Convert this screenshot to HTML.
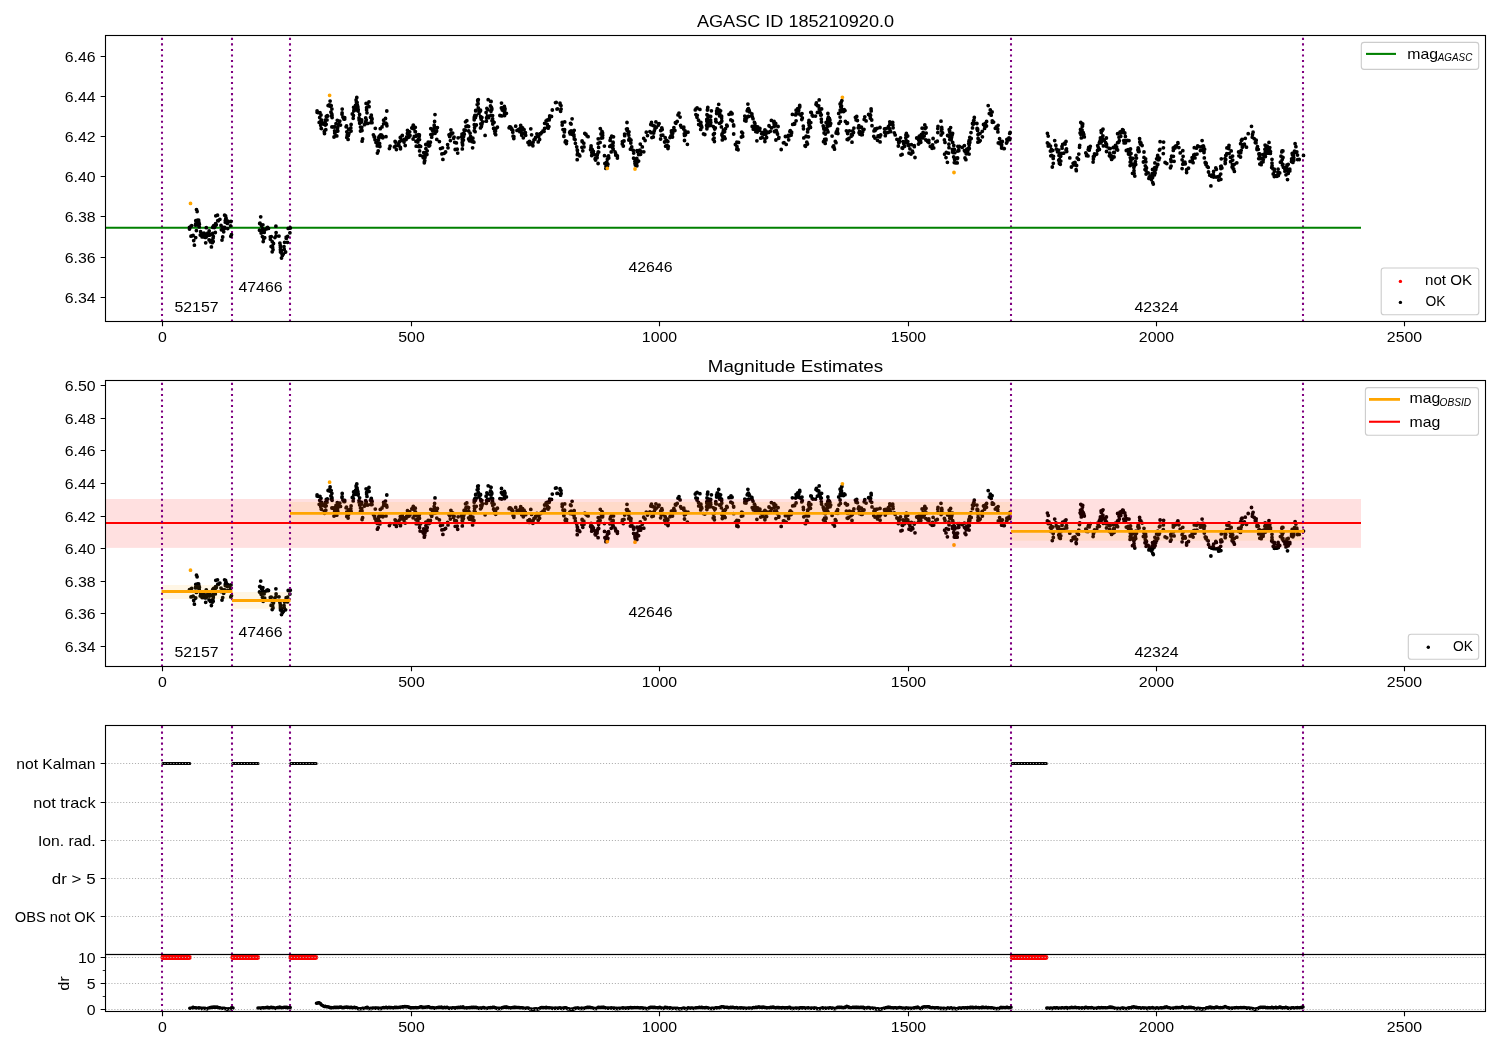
<!DOCTYPE html><html><head><meta charset="utf-8"><style>html,body{margin:0;padding:0;background:#fff;overflow:hidden;width:1500px;height:1050px;}svg{display:block;will-change:transform;}text{font-family:"Liberation Sans",sans-serif;fill:#000;}</style></head><body>
<svg width="1500" height="1050" viewBox="0 0 1500 1050">
<rect width="1500" height="1050" fill="#fff"/>
<defs><clipPath id="c1"><rect x="105.5" y="35.5" width="1380.0" height="286.0"/></clipPath><clipPath id="c2"><rect x="105.5" y="380.5" width="1380.0" height="286.0"/></clipPath><clipPath id="c4"><rect x="105.5" y="954.5" width="1380.0" height="57.0"/></clipPath></defs>
<g clip-path="url(#c1)">
<path d="M162.0 321.5V35.5M232.0 321.5V35.5M290.0 321.5V35.5M1011.0 321.5V35.5M1303.0 321.5V35.5" stroke="#800080" stroke-width="2.083" stroke-dasharray="2.083 3.438" fill="none"/>
<path d="M105.5 227.7H1361" stroke="#008000" stroke-width="2.083" fill="none"/>
<path d="M190.6 226.8h0M189.5 227.3h0M189.5 229.0h0M191.0 226.2h0M191.0 236.2h0M191.7 225.6h0M193.1 235.3h0M192.0 235.9h0M193.7 240.6h0M194.4 245.2h0M195.7 237.6h0M195.7 224.0h0M195.8 220.7h0M196.4 230.6h0M196.4 222.5h0M195.6 225.2h0M196.7 224.0h0M197.1 211.5h0M196.5 209.6h0M197.6 220.1h0M197.5 221.9h0M198.6 220.8h0M198.5 223.7h0M199.0 222.7h0M198.6 220.1h0M199.2 226.9h0M198.3 225.0h0M199.4 224.3h0M200.8 234.3h0M200.3 235.0h0M202.1 236.9h0M200.6 231.7h0M203.0 235.6h0M202.1 234.3h0M204.9 233.8h0M204.9 237.3h0M204.0 233.1h0M205.9 237.3h0M206.2 236.9h0M205.7 242.8h0M206.3 227.7h0M206.8 236.0h0M207.7 233.2h0M209.2 234.1h0M209.2 231.0h0M209.5 235.2h0M209.1 240.0h0M210.5 240.3h0M210.5 241.9h0M212.2 240.8h0M211.4 246.9h0M212.3 242.7h0M211.8 234.1h0M212.4 240.2h0M212.7 233.5h0M212.7 227.3h0M213.1 237.9h0M213.2 241.5h0M213.3 236.4h0M213.1 226.7h0M213.7 225.7h0M215.3 232.5h0M214.3 227.5h0M214.5 225.7h0M215.4 224.9h0M216.3 224.7h0M214.9 226.6h0M215.8 225.3h0M215.6 223.7h0M215.8 215.8h0M217.8 220.7h0M217.5 215.2h0M218.3 220.8h0M219.9 219.3h0M221.0 225.4h0M221.4 229.8h0M222.4 227.2h0M222.0 240.1h0M222.7 237.0h0M224.4 228.5h0M223.7 231.8h0M224.7 227.5h0M224.6 215.2h0M225.3 222.2h0M225.3 220.6h0M226.0 221.1h0M225.6 216.0h0M225.8 218.5h0M226.1 218.2h0M227.3 223.4h0M227.3 220.8h0M227.8 221.1h0M227.7 228.6h0M228.0 222.3h0M230.5 225.8h0M231.0 221.5h0M230.8 236.3h0M231.5 234.6h0M259.5 230.2h0M260.0 223.2h0M259.7 223.5h0M260.7 216.8h0M261.1 233.0h0M261.5 225.8h0M262.4 236.6h0M262.7 228.6h0M262.5 231.9h0M262.9 224.8h0M264.1 231.8h0M263.7 238.8h0M264.2 232.4h0M263.2 241.6h0M264.7 237.7h0M263.5 231.3h0M264.7 230.0h0M266.4 228.9h0M267.0 227.9h0M268.5 228.4h0M267.6 227.4h0M270.4 239.2h0M270.3 236.8h0M271.3 236.6h0M272.2 241.6h0M271.2 246.3h0M270.6 236.8h0M271.1 246.6h0M272.6 247.4h0M272.5 245.9h0M272.2 251.8h0M273.5 243.4h0M273.0 249.7h0M274.9 237.6h0M276.0 236.0h0M276.1 232.6h0M275.9 226.2h0M279.0 236.1h0M280.3 245.4h0M280.4 249.7h0M280.4 247.3h0M279.9 243.2h0M280.5 252.1h0M282.0 254.0h0M281.5 258.0h0M281.7 250.6h0M282.4 255.6h0M281.0 250.1h0M283.3 254.1h0M284.0 246.6h0M284.6 242.3h0M284.2 249.2h0M285.6 252.0h0M286.2 238.3h0M286.2 237.1h0M286.5 238.3h0M287.6 236.4h0M287.5 242.3h0M288.2 228.4h0M290.3 228.0h0M289.9 232.8h0M317.1 110.9h0M317.1 112.3h0M318.2 112.7h0M319.2 122.4h0M320.0 112.7h0M319.7 117.5h0M321.0 115.0h0M321.2 120.5h0M321.6 122.6h0M321.2 128.4h0M321.7 120.1h0M320.7 125.3h0M321.1 124.2h0M323.6 124.0h0M321.4 128.6h0M324.3 131.7h0M324.7 122.9h0M324.5 133.5h0M324.6 130.8h0M325.4 125.0h0M325.6 119.8h0M325.8 129.7h0M325.1 122.3h0M326.2 124.3h0M326.0 124.4h0M326.3 116.4h0M327.0 119.9h0M327.3 115.6h0M327.4 116.2h0M328.1 105.6h0M329.1 104.9h0M329.8 106.1h0M330.1 101.1h0M331.2 105.7h0M330.3 105.2h0M331.1 112.4h0M331.9 108.9h0M330.9 112.1h0M331.9 114.2h0M332.0 115.7h0M332.1 117.5h0M331.3 115.9h0M331.9 126.9h0M332.9 127.0h0M334.0 126.8h0M334.4 127.0h0M334.0 137.0h0M334.7 133.1h0M334.6 130.8h0M335.5 132.1h0M335.2 131.9h0M335.9 135.9h0M337.5 128.2h0M336.8 135.9h0M336.0 123.7h0M337.7 127.2h0M337.3 120.3h0M337.8 131.0h0M339.8 121.1h0M339.5 121.4h0M339.0 124.2h0M340.5 125.1h0M342.1 113.0h0M342.0 114.2h0M342.2 109.1h0M342.9 117.1h0M343.9 119.1h0M344.2 118.4h0M344.7 117.7h0M344.7 119.1h0M346.5 125.9h0M346.8 131.8h0M346.8 137.4h0M346.1 126.8h0M347.2 135.2h0M347.6 134.5h0M348.1 139.4h0M348.9 133.5h0M348.4 135.5h0M348.6 129.2h0M351.1 131.1h0M350.8 127.9h0M351.1 124.4h0M353.2 118.3h0M353.4 115.5h0M353.6 107.3h0M352.3 114.0h0M353.8 110.9h0M354.0 108.9h0M355.5 105.5h0M356.2 106.5h0M356.8 97.4h0M356.1 100.0h0M355.8 109.8h0M358.1 111.1h0M356.7 103.2h0M356.4 102.0h0M357.4 105.2h0M357.6 106.1h0M357.1 102.4h0M358.2 109.7h0M357.9 107.0h0M357.8 108.0h0M359.1 119.9h0M359.6 114.5h0M359.0 117.9h0M359.9 122.5h0M359.7 123.3h0M361.7 120.0h0M359.7 122.0h0M361.2 120.1h0M360.5 131.0h0M360.5 127.1h0M361.5 122.1h0M361.7 127.4h0M362.0 130.5h0M361.6 130.5h0M362.1 141.2h0M362.6 139.0h0M364.5 124.7h0M365.0 123.9h0M365.7 117.9h0M365.6 121.6h0M366.3 119.8h0M367.8 123.4h0M367.0 112.8h0M366.1 103.4h0M366.6 107.7h0M366.6 109.9h0M369.0 101.8h0M367.7 103.9h0M369.1 106.7h0M370.5 117.3h0M371.7 117.8h0M371.3 115.1h0M370.9 122.7h0M370.8 117.4h0M371.6 120.5h0M372.1 119.0h0M372.0 122.7h0M374.2 136.9h0M375.3 128.3h0M373.4 134.8h0M375.0 139.7h0M374.6 137.0h0M376.0 142.5h0M377.6 142.8h0M377.4 153.1h0M378.2 151.0h0M377.3 145.9h0M379.4 136.1h0M378.8 137.5h0M379.6 145.4h0M379.9 146.5h0M378.5 139.8h0M379.6 143.5h0M380.6 134.8h0M381.7 135.1h0M381.0 135.7h0M381.1 137.1h0M380.3 128.7h0M382.6 136.5h0M382.8 137.8h0M382.0 126.9h0M383.6 120.2h0M383.6 123.8h0M385.5 118.5h0M386.8 111.0h0M385.8 123.1h0M386.6 124.0h0M386.9 125.8h0M386.0 136.7h0M390.1 146.1h0M389.4 148.6h0M394.4 146.9h0M395.1 141.5h0M395.7 142.1h0M395.7 146.0h0M395.8 142.1h0M395.3 142.0h0M396.4 149.6h0M399.0 145.7h0M398.7 145.4h0M398.6 144.2h0M398.7 144.0h0M400.4 147.4h0M399.8 141.4h0M400.5 148.8h0M400.3 137.5h0M402.0 140.1h0M402.3 135.5h0M404.3 139.3h0M404.0 142.1h0M405.2 145.5h0M406.7 136.9h0M406.1 139.5h0M406.5 137.8h0M408.1 135.9h0M407.4 133.4h0M407.4 137.7h0M407.5 130.3h0M409.1 137.0h0M410.0 135.4h0M409.7 131.8h0M411.8 128.0h0M413.0 126.2h0M413.1 139.0h0M413.3 125.1h0M414.3 136.3h0M415.1 131.7h0M414.0 128.9h0M415.3 127.3h0M415.8 136.3h0M416.0 141.4h0M415.4 131.7h0M416.7 135.1h0M417.8 142.0h0M418.4 139.3h0M416.2 146.2h0M419.2 136.4h0M417.0 140.8h0M418.5 134.6h0M419.6 150.9h0M419.5 139.6h0M419.4 134.9h0M419.3 145.7h0M420.6 146.4h0M420.1 155.3h0M419.1 146.7h0M423.7 152.6h0M423.3 157.7h0M424.3 162.8h0M422.7 156.3h0M424.4 161.7h0M424.8 160.6h0M425.0 157.4h0M425.4 154.6h0M425.2 153.0h0M425.9 148.7h0M424.9 156.7h0M425.8 144.5h0M426.9 154.5h0M427.2 150.8h0M428.1 145.2h0M428.2 142.2h0M429.5 144.1h0M429.7 145.3h0M429.0 146.0h0M430.4 142.2h0M429.8 143.1h0M430.8 134.6h0M431.7 137.2h0M430.8 128.6h0M432.7 134.0h0M432.4 130.3h0M434.2 125.2h0M435.3 130.9h0M434.2 128.0h0M435.0 114.6h0M434.4 126.4h0M434.6 121.4h0M435.1 133.3h0M436.8 139.4h0M437.4 127.6h0M436.6 131.0h0M436.4 131.6h0M439.4 141.6h0M440.5 148.6h0M441.9 153.9h0M442.5 147.8h0M442.9 159.4h0M444.2 153.3h0M445.6 152.0h0M448.0 147.8h0M447.6 144.6h0M449.4 134.6h0M449.0 134.8h0M449.8 135.6h0M449.6 136.5h0M450.4 140.6h0M450.9 129.8h0M450.0 136.1h0M451.1 134.2h0M451.2 133.3h0M452.7 133.1h0M453.6 138.3h0M454.1 137.1h0M454.7 142.3h0M456.4 142.9h0M455.2 149.5h0M458.1 137.8h0M457.7 153.1h0M457.2 149.2h0M462.3 148.9h0M462.8 141.1h0M461.4 136.8h0M462.2 142.4h0M462.3 139.6h0M462.5 144.0h0M462.0 134.1h0M462.6 145.1h0M463.4 139.9h0M463.6 136.6h0M464.3 134.2h0M463.7 133.5h0M465.4 130.3h0M464.1 130.0h0M466.0 126.5h0M465.5 121.8h0M466.8 120.7h0M468.6 126.5h0M467.6 125.8h0M468.7 131.0h0M468.6 139.0h0M469.5 140.8h0M470.1 137.8h0M470.1 133.2h0M470.6 136.3h0M472.0 138.3h0M472.6 147.8h0M471.9 141.5h0M472.2 141.0h0M472.9 138.2h0M472.7 140.7h0M473.9 142.2h0M475.1 131.7h0M474.3 130.7h0M474.3 124.7h0M474.6 127.6h0M474.2 119.8h0M474.3 118.4h0M474.3 117.2h0M474.9 115.5h0M475.5 117.5h0M476.3 125.0h0M475.7 110.3h0M476.1 115.5h0M475.7 110.9h0M477.9 101.5h0M477.2 104.6h0M478.1 103.8h0M477.7 100.2h0M479.0 113.4h0M478.3 99.7h0M479.3 110.9h0M480.5 110.8h0M478.3 107.9h0M479.9 111.4h0M481.2 118.5h0M480.6 116.6h0M480.9 118.0h0M481.2 119.2h0M480.5 110.2h0M481.2 124.6h0M480.5 127.9h0M480.8 123.8h0M481.4 126.5h0M481.9 117.5h0M482.1 123.0h0M482.7 121.8h0M481.9 124.3h0M485.1 135.4h0M486.2 121.2h0M486.4 121.2h0M486.1 112.5h0M486.6 117.7h0M487.5 116.0h0M488.0 109.7h0M486.9 108.3h0M488.6 117.7h0M490.7 101.4h0M488.2 99.7h0M491.1 101.5h0M491.0 111.3h0M490.8 115.4h0M491.8 108.5h0M490.5 106.0h0M491.3 107.1h0M492.6 115.6h0M491.8 109.5h0M492.0 120.7h0M492.9 123.6h0M492.6 118.8h0M494.1 122.3h0M492.8 124.1h0M494.0 128.2h0M493.5 121.9h0M494.7 131.3h0M494.9 129.0h0M493.6 128.5h0M495.7 134.7h0M495.0 133.6h0M495.5 131.2h0M497.4 127.2h0M495.9 128.8h0M499.9 115.5h0M501.7 115.9h0M501.4 108.0h0M502.3 110.0h0M501.5 103.1h0M502.2 108.1h0M503.1 110.6h0M504.4 106.4h0M505.0 108.7h0M504.6 113.5h0M504.9 112.5h0M504.9 109.7h0M504.6 115.5h0M506.4 113.3h0M509.1 127.8h0M509.7 126.8h0M510.7 127.2h0M511.7 129.4h0M511.8 128.7h0M512.8 130.4h0M512.8 132.2h0M513.9 136.7h0M513.1 136.2h0M513.8 138.5h0M515.7 126.2h0M517.0 130.4h0M518.6 129.7h0M519.8 131.7h0M519.5 129.2h0M520.2 128.3h0M521.9 133.4h0M521.2 130.8h0M520.7 125.4h0M521.7 135.2h0M521.7 133.8h0M522.6 127.8h0M523.3 133.7h0M524.1 129.7h0M523.3 137.8h0M525.0 133.8h0M525.4 132.6h0M525.4 134.4h0M525.7 135.3h0M528.0 142.5h0M529.2 144.7h0M529.8 144.0h0M529.5 141.3h0M530.8 128.8h0M529.7 143.7h0M531.6 134.8h0M532.7 143.3h0M532.9 145.8h0M533.1 142.2h0M534.8 139.1h0M534.0 139.8h0M535.1 139.2h0M535.6 137.4h0M537.0 136.6h0M536.9 133.8h0M538.2 141.9h0M538.7 136.6h0M539.6 139.5h0M540.2 133.7h0M540.8 133.8h0M541.8 132.3h0M543.0 130.9h0M544.1 131.3h0M544.6 128.4h0M544.6 123.3h0M546.1 120.8h0M548.2 128.2h0M547.5 120.2h0M547.0 120.1h0M547.5 126.8h0M547.3 124.5h0M549.2 119.9h0M549.7 116.0h0M548.9 126.6h0M549.5 118.3h0M551.5 116.4h0M552.3 110.0h0M555.5 102.6h0M556.2 102.4h0M557.0 109.1h0M557.5 108.9h0M561.0 105.6h0M560.0 103.2h0M560.3 104.7h0M560.6 111.3h0M561.1 109.1h0M562.2 122.3h0M562.2 125.1h0M563.9 135.9h0M563.0 129.6h0M564.6 129.7h0M564.4 131.9h0M564.7 121.9h0M563.9 136.4h0M565.2 142.1h0M566.4 143.6h0M566.6 141.3h0M565.6 140.8h0M570.1 131.6h0M569.7 132.4h0M570.2 133.9h0M570.5 123.3h0M571.1 124.1h0M572.1 118.8h0M571.1 130.8h0M572.5 134.4h0M573.2 132.3h0M574.2 130.3h0M574.0 136.3h0M573.9 134.8h0M574.3 139.0h0M575.1 139.6h0M576.7 146.8h0M575.4 143.3h0M577.3 150.0h0M577.4 150.6h0M577.6 153.3h0M578.4 154.3h0M577.3 154.7h0M577.2 159.7h0M579.0 154.6h0M579.8 155.9h0M581.9 147.3h0M582.2 141.7h0M582.8 150.8h0M582.1 141.0h0M584.0 146.9h0M583.8 143.2h0M584.8 133.4h0M585.6 134.3h0M585.9 134.1h0M587.1 136.1h0M588.1 136.7h0M590.6 149.7h0M591.1 146.0h0M591.3 149.1h0M591.0 147.6h0M591.8 152.6h0M592.2 149.5h0M593.1 152.7h0M591.7 155.5h0M594.1 154.4h0M593.1 152.6h0M593.4 151.4h0M595.1 159.1h0M595.6 160.0h0M595.4 158.2h0M597.2 155.2h0M597.1 157.7h0M598.1 163.5h0M598.2 152.0h0M597.5 154.0h0M598.7 152.1h0M598.2 138.8h0M598.6 147.4h0M598.1 143.5h0M600.1 142.4h0M601.0 134.0h0M600.3 128.6h0M602.0 131.4h0M602.6 137.8h0M602.7 135.3h0M601.3 138.0h0M602.6 133.0h0M604.4 146.1h0M604.5 155.7h0M606.0 166.2h0M604.9 163.5h0M606.8 162.1h0M606.3 167.5h0M607.4 166.3h0M605.9 168.4h0M607.9 164.2h0M607.4 159.2h0M608.8 158.0h0M608.0 156.8h0M608.5 156.0h0M611.2 151.9h0M609.8 146.4h0M610.1 140.4h0M610.4 145.8h0M610.6 138.1h0M612.1 145.8h0M613.1 143.1h0M611.7 136.2h0M611.1 145.5h0M613.0 145.8h0M613.1 142.2h0M612.9 148.4h0M613.2 149.0h0M613.5 136.8h0M615.6 153.5h0M615.0 151.8h0M615.8 155.2h0M617.4 158.1h0M617.4 156.0h0M623.3 146.0h0M622.3 143.9h0M622.4 141.6h0M624.0 141.0h0M624.7 135.5h0M624.6 134.1h0M624.7 135.7h0M626.5 129.1h0M627.2 130.5h0M627.0 122.5h0M627.4 128.9h0M629.0 131.8h0M628.8 135.2h0M628.2 133.4h0M628.8 140.1h0M629.3 138.6h0M630.0 139.2h0M629.9 139.4h0M630.8 143.0h0M631.0 140.2h0M630.4 149.2h0M631.7 146.9h0M633.3 150.4h0M633.1 150.3h0M633.7 153.1h0M633.6 158.2h0M635.0 163.6h0M636.2 161.8h0M635.4 165.0h0M634.9 161.5h0M636.9 165.8h0M636.2 160.0h0M637.0 150.6h0M636.7 163.4h0M636.8 158.4h0M637.6 151.7h0M638.6 154.6h0M639.8 150.1h0M638.6 161.1h0M640.6 154.3h0M640.3 144.1h0M640.9 151.5h0M642.3 146.9h0M643.8 151.8h0M643.7 138.3h0M646.3 132.2h0M645.1 140.5h0M647.5 135.6h0M649.9 131.6h0M650.8 124.5h0M651.0 132.7h0M651.9 137.6h0M651.5 122.4h0M653.7 133.0h0M653.0 125.4h0M653.3 137.0h0M655.0 128.8h0M654.3 125.9h0M654.2 131.0h0M656.5 127.2h0M655.9 121.9h0M655.7 127.1h0M658.3 125.2h0M659.1 123.6h0M660.6 139.0h0M661.1 130.3h0M660.7 130.5h0M661.2 135.3h0M661.8 127.8h0M662.2 129.5h0M662.8 135.2h0M665.2 137.7h0M664.6 142.0h0M665.6 146.2h0M666.0 140.5h0M666.8 145.5h0M667.7 147.0h0M666.8 140.3h0M668.3 146.4h0M667.9 141.6h0M668.0 148.5h0M667.7 145.8h0M670.0 137.6h0M671.4 130.8h0M670.9 135.8h0M671.5 132.3h0M672.5 137.0h0M672.7 133.3h0M673.1 130.3h0M672.2 136.4h0M672.0 134.9h0M673.9 127.6h0M674.9 130.5h0M675.9 123.3h0M675.4 122.7h0M677.2 121.4h0M678.0 114.9h0M679.0 113.1h0M680.1 117.1h0M680.6 125.4h0M681.2 127.1h0M683.8 127.2h0M684.5 135.4h0M683.7 129.1h0M685.1 130.9h0M684.3 133.8h0M685.1 131.8h0M684.5 140.5h0M685.5 134.8h0M688.0 132.2h0M687.4 144.3h0M696.0 108.9h0M695.3 109.9h0M697.1 107.9h0M695.9 114.6h0M696.8 116.0h0M697.0 117.3h0M697.3 115.3h0M698.7 124.4h0M698.5 120.2h0M699.9 109.4h0M700.9 122.3h0M701.0 125.0h0M700.7 129.4h0M700.5 125.7h0M701.8 127.2h0M701.6 126.4h0M703.5 133.9h0M704.8 134.5h0M706.9 128.8h0M706.6 125.5h0M707.0 127.6h0M706.8 121.0h0M707.0 114.7h0M707.3 123.3h0M707.7 115.5h0M706.8 119.3h0M707.5 118.9h0M708.9 121.1h0M707.4 118.9h0M707.6 109.3h0M707.4 110.0h0M707.8 107.5h0M709.7 121.0h0M709.0 116.1h0M709.2 120.1h0M710.7 116.4h0M711.4 110.8h0M709.4 125.7h0M710.6 120.1h0M710.8 122.4h0M710.7 122.7h0M710.8 125.2h0M710.6 125.1h0M713.4 126.7h0M713.2 139.3h0M713.4 134.5h0M714.4 133.5h0M714.4 141.5h0M714.1 138.1h0M714.7 129.0h0M715.8 121.3h0M715.3 127.9h0M716.2 121.9h0M715.8 119.3h0M716.7 111.1h0M716.6 110.9h0M717.3 108.6h0M717.7 112.7h0M716.6 113.5h0M718.0 113.1h0M718.7 104.3h0M719.4 110.2h0M718.9 112.7h0M720.6 110.8h0M719.7 113.5h0M719.5 123.3h0M719.6 115.9h0M720.9 122.5h0M721.6 118.0h0M721.8 121.0h0M721.6 116.2h0M721.4 126.9h0M722.1 133.8h0M722.3 139.9h0M722.8 136.8h0M721.9 135.0h0M723.0 132.5h0M723.4 130.2h0M724.3 137.0h0M725.1 138.6h0M724.6 131.8h0M724.5 137.8h0M725.5 128.7h0M726.7 125.1h0M727.2 126.0h0M729.0 114.3h0M731.0 112.3h0M730.8 119.9h0M732.1 113.7h0M731.9 113.9h0M732.4 121.0h0M733.7 125.9h0M733.6 124.9h0M733.7 134.0h0M735.4 144.5h0M736.9 146.4h0M736.8 149.2h0M736.9 142.1h0M737.0 146.9h0M738.1 149.8h0M738.0 149.5h0M738.6 142.4h0M741.4 137.0h0M742.7 136.4h0M742.5 136.3h0M741.7 132.1h0M742.6 133.1h0M744.8 120.6h0M744.9 119.0h0M746.0 121.0h0M744.8 116.1h0M747.2 110.8h0M746.7 118.0h0M748.4 108.7h0M747.9 104.1h0M749.1 111.1h0M748.1 116.5h0M747.7 109.5h0M748.7 116.4h0M749.1 110.2h0M749.6 111.9h0M751.9 114.0h0M752.3 116.8h0M752.2 126.5h0M751.8 115.5h0M753.3 129.2h0M753.0 118.7h0M754.4 122.3h0M753.8 126.6h0M755.5 130.4h0M755.1 129.4h0M754.9 123.5h0M755.7 131.6h0M755.6 126.1h0M756.9 140.8h0M757.7 130.5h0M757.2 132.1h0M757.7 126.9h0M759.7 130.3h0M759.9 128.5h0M760.7 138.2h0M761.6 133.6h0M762.1 137.5h0M762.4 132.7h0M764.1 134.3h0M764.9 141.5h0M762.9 132.6h0M764.9 130.0h0M765.0 138.8h0M766.0 131.2h0M765.9 134.0h0M766.6 137.5h0M769.2 126.1h0M768.6 132.4h0M769.0 125.7h0M770.3 131.3h0M771.5 127.9h0M771.4 120.4h0M774.1 123.7h0M773.8 122.0h0M774.1 126.5h0M774.6 131.7h0M774.1 121.5h0M774.3 131.3h0M774.6 123.1h0M775.6 125.7h0M775.7 123.5h0M775.9 140.0h0M776.8 132.1h0M777.5 134.0h0M776.2 130.4h0M778.7 138.3h0M778.1 126.5h0M778.9 137.3h0M781.2 149.5h0M783.4 142.8h0M784.0 142.7h0M786.2 144.4h0M785.4 136.5h0M787.8 136.6h0M788.7 139.8h0M788.3 135.5h0M789.0 135.9h0M790.3 130.7h0M791.5 133.3h0M789.9 131.5h0M791.1 135.2h0M791.6 132.1h0M792.7 124.4h0M792.4 114.4h0M794.6 124.0h0M794.6 123.5h0M795.6 114.9h0M796.1 110.2h0M796.2 113.3h0M796.1 120.8h0M797.7 108.6h0M797.5 109.3h0M798.7 110.5h0M799.1 113.9h0M798.8 108.8h0M799.8 106.8h0M799.7 105.4h0M801.8 119.5h0M802.3 117.9h0M801.0 115.3h0M802.0 113.6h0M802.0 118.9h0M803.5 128.8h0M803.3 126.2h0M803.8 137.9h0M805.0 145.7h0M805.5 146.3h0M805.1 146.1h0M806.8 142.2h0M806.1 136.2h0M807.1 136.7h0M807.5 144.0h0M808.3 129.0h0M807.6 131.9h0M808.5 136.8h0M807.8 129.3h0M809.1 125.0h0M808.6 122.6h0M809.3 127.8h0M809.9 126.3h0M810.5 127.4h0M809.0 120.3h0M810.8 122.6h0M810.8 112.3h0M813.0 116.1h0M811.3 112.4h0M812.2 115.2h0M812.8 116.0h0M815.5 116.1h0M816.0 104.3h0M817.4 112.4h0M817.1 105.3h0M816.4 103.0h0M817.7 105.8h0M819.2 99.9h0M818.7 105.8h0M819.7 108.8h0M819.3 109.0h0M819.6 112.1h0M819.8 111.0h0M820.4 113.2h0M821.6 108.9h0M820.8 115.2h0M821.3 114.8h0M821.3 119.1h0M821.5 122.0h0M823.9 129.0h0M823.2 125.8h0M823.6 127.6h0M824.1 133.0h0M824.6 139.5h0M826.0 139.1h0M823.5 141.7h0M825.2 143.4h0M826.0 140.0h0M825.4 134.1h0M825.7 129.7h0M826.5 128.5h0M827.3 130.2h0M826.2 129.3h0M825.9 128.3h0M827.5 126.3h0M828.0 124.6h0M827.1 125.3h0M826.1 122.5h0M828.4 122.0h0M827.5 121.6h0M828.4 117.2h0M827.9 113.4h0M827.8 119.3h0M827.8 119.0h0M829.4 118.5h0M829.9 120.1h0M828.0 131.9h0M828.8 120.0h0M830.7 123.5h0M829.5 125.6h0M830.1 125.4h0M832.1 136.1h0M833.0 146.8h0M833.6 145.9h0M834.0 147.5h0M834.5 149.2h0M835.3 141.3h0M836.0 142.7h0M836.1 133.1h0M836.4 131.9h0M837.0 131.0h0M837.9 133.5h0M837.4 131.1h0M837.6 129.1h0M838.7 113.4h0M839.0 123.4h0M840.4 121.4h0M840.1 117.1h0M840.9 110.3h0M840.8 106.7h0M840.2 110.1h0M840.1 103.9h0M841.3 107.9h0M841.1 102.5h0M841.5 106.0h0M841.5 111.5h0M841.9 100.6h0M843.5 111.6h0M844.2 109.6h0M845.0 110.6h0M845.4 121.5h0M846.9 123.4h0M846.4 130.8h0M847.5 123.0h0M847.6 133.6h0M847.2 139.4h0M848.5 138.8h0M847.8 139.7h0M848.9 138.4h0M849.4 130.8h0M851.2 136.3h0M851.4 134.6h0M852.3 135.0h0M852.0 142.2h0M852.7 131.0h0M853.9 128.1h0M853.5 132.5h0M855.4 117.3h0M856.7 116.5h0M856.1 119.9h0M857.4 120.5h0M858.3 127.8h0M858.9 125.7h0M859.7 134.0h0M860.3 133.4h0M859.5 131.4h0M859.7 127.4h0M859.1 132.7h0M861.5 134.8h0M861.4 127.1h0M860.5 132.3h0M862.8 131.6h0M863.0 129.6h0M862.3 134.7h0M864.0 129.3h0M864.2 119.4h0M866.1 120.9h0M864.8 116.8h0M868.6 114.4h0M871.1 109.0h0M870.0 116.2h0M870.6 115.3h0M870.4 118.2h0M870.0 114.5h0M871.2 110.9h0M872.0 125.7h0M871.7 120.0h0M874.0 130.9h0M875.0 128.8h0M875.1 130.5h0M873.8 136.3h0M874.3 130.6h0M874.9 138.1h0M877.0 128.5h0M877.5 140.3h0M878.5 136.0h0M878.1 136.0h0M878.1 136.4h0M879.8 136.9h0M880.1 141.9h0M880.0 127.5h0M880.7 135.0h0M884.5 129.0h0M885.3 135.7h0M884.8 129.2h0M884.6 132.3h0M885.9 128.7h0M886.2 132.9h0M888.3 132.3h0M888.4 126.6h0M888.6 128.0h0M889.8 121.8h0M889.5 128.7h0M890.0 130.5h0M889.7 124.6h0M890.6 131.7h0M892.7 122.4h0M892.9 125.1h0M893.1 127.8h0M894.3 132.8h0M895.2 134.9h0M896.9 139.3h0M899.1 142.5h0M898.3 146.0h0M898.7 142.4h0M898.5 140.2h0M899.4 141.2h0M900.9 155.1h0M900.5 137.8h0M902.1 147.9h0M902.1 154.4h0M902.6 148.3h0M903.0 141.6h0M903.7 143.5h0M904.3 146.4h0M904.8 146.1h0M905.9 135.1h0M906.1 140.6h0M905.8 137.8h0M906.1 141.2h0M906.5 142.6h0M907.7 136.0h0M906.4 133.4h0M907.8 141.6h0M909.9 148.8h0M908.6 145.6h0M908.3 144.3h0M909.0 153.1h0M911.4 144.7h0M911.0 154.1h0M912.4 151.2h0M912.8 152.4h0M912.6 152.4h0M915.0 157.5h0M914.3 145.7h0M914.3 146.7h0M916.7 138.0h0M918.5 144.1h0M918.7 140.1h0M919.2 143.0h0M919.3 136.2h0M919.5 137.0h0M920.8 142.3h0M920.4 137.2h0M920.5 140.3h0M920.8 138.2h0M921.4 134.5h0M922.1 128.2h0M922.8 137.9h0M923.1 132.5h0M924.2 136.0h0M924.8 125.0h0M925.2 128.5h0M926.0 127.4h0M926.2 133.1h0M927.7 141.6h0M925.9 140.0h0M928.8 140.4h0M928.9 142.6h0M930.3 146.4h0M932.6 144.8h0M932.1 148.3h0M933.7 147.9h0M933.1 138.5h0M935.8 141.9h0M937.3 141.2h0M937.8 132.6h0M937.8 128.5h0M938.0 126.3h0M941.7 127.5h0M941.1 135.0h0M941.4 131.0h0M941.9 129.2h0M941.0 121.2h0M942.6 132.9h0M944.4 139.9h0M945.0 142.4h0M944.6 154.2h0M946.0 157.6h0M946.3 152.4h0M947.4 162.3h0M948.5 153.2h0M948.9 144.2h0M949.0 147.7h0M949.3 136.4h0M947.6 135.5h0M950.0 132.6h0M949.6 131.6h0M949.8 139.5h0M949.6 130.6h0M949.2 129.6h0M950.6 127.6h0M951.8 136.4h0M952.3 134.4h0M951.2 139.8h0M951.1 134.4h0M952.6 133.3h0M951.4 137.9h0M953.8 145.5h0M952.7 142.5h0M952.4 149.5h0M953.7 156.9h0M954.4 149.4h0M952.5 152.0h0M954.6 159.6h0M953.6 152.7h0M954.8 152.7h0M953.7 151.9h0M954.3 162.6h0M955.6 162.9h0M956.5 158.2h0M957.3 158.6h0M957.2 162.9h0M957.6 158.0h0M957.9 146.3h0M957.9 151.1h0M958.7 149.6h0M958.8 150.7h0M959.3 146.3h0M962.2 147.4h0M964.4 150.6h0M964.4 145.6h0M966.2 153.8h0M965.3 151.9h0M965.0 158.0h0M965.7 152.2h0M965.9 159.7h0M967.2 152.0h0M966.8 149.2h0M969.1 154.1h0M968.8 148.0h0M968.0 150.3h0M968.7 143.6h0M969.3 148.4h0M969.2 140.3h0M969.6 142.2h0M968.9 141.5h0M969.2 145.1h0M969.8 142.5h0M970.6 138.7h0M969.9 140.6h0M969.8 137.5h0M971.2 138.5h0M971.0 132.6h0M972.5 127.9h0M972.5 123.5h0M973.1 124.2h0M974.3 117.5h0M973.6 120.6h0M973.8 122.8h0M973.5 124.0h0M974.0 120.3h0M976.9 123.5h0M977.6 128.9h0M977.7 129.3h0M978.3 134.4h0M977.1 128.5h0M977.1 129.3h0M978.0 134.6h0M977.6 130.4h0M978.4 134.2h0M977.9 142.2h0M979.3 141.6h0M978.1 138.5h0M980.2 140.6h0M980.0 133.6h0M982.4 136.8h0M982.3 131.3h0M984.6 128.4h0M983.5 124.5h0M984.5 125.6h0M986.6 121.4h0M985.4 123.3h0M986.5 126.0h0M989.3 113.6h0M988.2 105.6h0M990.3 109.9h0M992.1 111.9h0M991.2 115.2h0M992.3 120.8h0M992.3 122.3h0M993.6 122.1h0M995.3 128.3h0M996.3 127.9h0M998.1 125.3h0M996.3 126.8h0M997.7 129.0h0M999.7 142.9h0M997.9 131.9h0M998.3 142.9h0M999.9 143.7h0M999.6 138.7h0M1001.0 141.6h0M1002.3 141.4h0M1001.6 144.3h0M1001.6 148.1h0M1001.6 145.9h0M1004.3 148.6h0M1004.0 148.7h0M1006.5 143.0h0M1007.0 142.1h0M1006.9 139.5h0M1009.7 139.7h0M1009.7 133.4h0M1009.8 139.0h0M1009.0 137.8h0M1010.1 132.5h0M1047.4 142.9h0M1047.4 133.3h0M1048.2 136.1h0M1048.2 146.1h0M1048.9 144.2h0M1050.9 150.8h0M1050.4 151.1h0M1050.8 155.8h0M1050.5 146.1h0M1051.4 149.5h0M1051.6 155.3h0M1052.3 167.0h0M1053.3 163.3h0M1052.8 150.3h0M1053.2 158.4h0M1053.5 156.3h0M1051.7 150.8h0M1054.7 140.6h0M1055.9 145.5h0M1056.4 149.1h0M1055.7 145.2h0M1057.7 151.8h0M1058.1 151.0h0M1057.5 151.8h0M1058.7 150.1h0M1059.0 155.4h0M1059.4 159.5h0M1058.7 160.2h0M1060.3 164.3h0M1059.4 162.2h0M1059.4 163.4h0M1059.7 153.5h0M1059.4 161.9h0M1060.5 156.4h0M1060.6 154.2h0M1061.1 153.5h0M1060.8 161.1h0M1060.8 156.1h0M1062.0 146.5h0M1062.7 144.3h0M1062.1 148.2h0M1065.1 144.1h0M1063.7 153.2h0M1064.9 142.8h0M1066.0 141.4h0M1066.5 148.8h0M1066.0 149.9h0M1066.7 151.5h0M1069.8 157.9h0M1071.4 167.0h0M1073.4 163.1h0M1073.1 163.3h0M1075.0 162.5h0M1076.1 169.6h0M1076.3 170.7h0M1074.2 164.9h0M1076.6 165.5h0M1077.2 158.0h0M1078.5 159.4h0M1078.8 154.1h0M1079.5 147.3h0M1079.7 145.3h0M1080.1 132.9h0M1080.5 129.5h0M1082.1 132.0h0M1080.7 134.3h0M1081.3 137.9h0M1082.5 125.9h0M1081.9 124.1h0M1080.8 122.5h0M1082.5 132.3h0M1082.1 130.1h0M1082.3 126.4h0M1083.2 132.6h0M1082.9 132.3h0M1082.7 123.9h0M1083.8 136.5h0M1084.0 136.6h0M1083.8 134.5h0M1084.3 136.9h0M1085.8 152.9h0M1086.6 154.3h0M1086.6 155.7h0M1088.7 147.5h0M1088.2 149.6h0M1088.0 155.9h0M1089.8 148.0h0M1089.2 150.2h0M1090.3 146.3h0M1093.1 162.1h0M1093.4 159.1h0M1093.4 156.7h0M1094.4 156.1h0M1094.5 153.9h0M1097.5 150.5h0M1096.6 154.2h0M1098.2 147.3h0M1096.7 154.0h0M1097.7 145.6h0M1099.9 141.5h0M1099.4 149.5h0M1099.3 143.0h0M1100.9 142.9h0M1100.4 137.9h0M1101.1 130.6h0M1100.1 140.7h0M1101.3 132.6h0M1101.3 141.9h0M1102.4 130.3h0M1103.0 129.2h0M1102.4 139.0h0M1104.3 140.6h0M1103.0 139.3h0M1102.9 135.8h0M1103.4 145.9h0M1106.4 138.0h0M1105.6 142.6h0M1106.5 144.2h0M1106.7 146.5h0M1106.5 151.5h0M1109.2 148.4h0M1109.4 155.8h0M1110.9 157.2h0M1110.1 148.6h0M1109.8 153.2h0M1111.8 156.4h0M1111.1 155.6h0M1111.6 159.4h0M1113.8 147.6h0M1112.8 157.9h0M1114.1 156.9h0M1113.7 152.4h0M1113.3 147.5h0M1114.3 152.5h0M1115.5 145.5h0M1116.8 149.5h0M1116.6 146.9h0M1116.5 149.2h0M1117.6 142.7h0M1117.6 150.0h0M1117.6 133.7h0M1119.0 137.2h0M1118.7 142.2h0M1120.0 132.1h0M1119.3 140.7h0M1119.9 132.8h0M1120.8 136.3h0M1120.2 132.0h0M1121.3 131.6h0M1121.9 132.5h0M1123.2 130.1h0M1122.5 129.7h0M1124.1 142.9h0M1125.4 136.5h0M1124.8 133.0h0M1123.7 140.6h0M1124.8 140.6h0M1125.5 142.8h0M1126.3 150.5h0M1127.4 140.4h0M1127.5 149.9h0M1128.5 154.0h0M1128.2 149.6h0M1128.7 153.0h0M1129.0 140.6h0M1129.5 151.3h0M1130.2 162.1h0M1130.5 149.0h0M1130.1 154.3h0M1130.3 157.6h0M1130.7 159.2h0M1130.1 165.6h0M1131.0 153.4h0M1131.0 160.6h0M1131.6 164.7h0M1132.3 158.5h0M1132.4 164.0h0M1132.5 173.3h0M1134.1 173.4h0M1134.0 170.7h0M1133.0 158.4h0M1134.4 166.1h0M1133.9 167.6h0M1135.7 164.4h0M1134.7 163.8h0M1134.8 176.1h0M1135.4 161.6h0M1135.9 155.3h0M1136.5 158.1h0M1138.4 151.6h0M1137.9 150.0h0M1138.6 149.3h0M1139.1 151.5h0M1138.2 147.8h0M1139.8 142.0h0M1140.1 142.0h0M1140.4 143.9h0M1139.6 138.7h0M1141.1 144.4h0M1140.9 142.9h0M1142.1 145.5h0M1144.0 152.0h0M1143.6 161.8h0M1143.4 162.0h0M1144.0 157.4h0M1145.3 165.8h0M1145.9 161.8h0M1145.6 158.8h0M1146.0 167.1h0M1146.5 168.0h0M1145.0 169.6h0M1146.0 170.6h0M1146.1 174.1h0M1148.2 172.9h0M1149.3 177.0h0M1148.9 178.4h0M1150.4 175.9h0M1151.5 179.7h0M1152.5 169.5h0M1152.1 173.6h0M1152.8 182.7h0M1153.3 184.1h0M1152.6 177.5h0M1154.4 174.9h0M1154.7 167.7h0M1155.1 173.0h0M1154.7 172.4h0M1154.9 162.9h0M1155.1 170.4h0M1155.8 169.4h0M1155.8 168.8h0M1156.6 158.8h0M1157.8 164.5h0M1157.7 155.4h0M1156.6 166.8h0M1157.6 157.1h0M1159.4 150.1h0M1158.2 159.8h0M1159.5 158.1h0M1159.9 149.3h0M1158.9 159.7h0M1160.1 141.7h0M1163.4 147.8h0M1163.3 153.6h0M1163.6 142.1h0M1165.1 162.5h0M1166.8 163.6h0M1170.4 167.8h0M1171.1 161.5h0M1171.1 166.1h0M1170.8 159.5h0M1173.4 156.3h0M1171.6 156.2h0M1173.3 150.4h0M1174.1 161.3h0M1173.3 148.0h0M1175.0 148.0h0M1176.3 146.2h0M1175.2 146.5h0M1176.6 146.7h0M1176.0 146.0h0M1177.9 142.7h0M1178.0 143.3h0M1178.9 147.6h0M1180.2 152.9h0M1182.1 159.8h0M1183.1 156.3h0M1182.8 150.7h0M1182.1 168.6h0M1183.1 164.2h0M1183.6 162.6h0M1182.8 164.2h0M1184.9 162.1h0M1185.3 163.8h0M1186.6 169.7h0M1186.6 172.5h0M1188.5 168.2h0M1190.1 161.4h0M1192.2 160.5h0M1193.1 162.7h0M1192.1 157.6h0M1195.0 157.9h0M1194.3 147.7h0M1193.8 154.9h0M1194.9 154.4h0M1196.5 148.2h0M1197.7 145.8h0M1197.0 154.1h0M1199.9 146.8h0M1200.4 150.6h0M1202.3 146.9h0M1202.1 150.2h0M1203.3 145.9h0M1202.1 140.6h0M1203.6 146.6h0M1202.7 146.1h0M1204.0 151.5h0M1204.6 149.2h0M1204.0 152.6h0M1204.3 157.9h0M1205.2 162.7h0M1205.3 162.3h0M1205.9 163.8h0M1206.2 163.2h0M1205.9 164.5h0M1207.2 166.4h0M1208.2 167.4h0M1208.5 172.0h0M1209.7 175.2h0M1210.9 185.9h0M1211.5 176.3h0M1211.6 175.2h0M1213.4 174.6h0M1213.6 175.9h0M1213.7 177.0h0M1213.6 171.5h0M1215.8 168.0h0M1216.1 177.1h0M1216.4 169.3h0M1217.9 176.6h0M1219.3 176.1h0M1218.7 180.1h0M1220.9 179.3h0M1220.7 174.1h0M1220.9 168.6h0M1221.2 166.1h0M1220.7 166.4h0M1221.9 168.0h0M1221.3 158.8h0M1225.3 163.0h0M1225.2 161.3h0M1225.2 163.5h0M1225.0 158.6h0M1225.7 159.4h0M1226.0 155.5h0M1226.8 153.6h0M1226.9 147.9h0M1225.8 155.4h0M1229.1 153.6h0M1228.8 147.1h0M1228.6 148.6h0M1229.0 145.3h0M1230.4 157.3h0M1231.2 150.9h0M1230.6 161.7h0M1232.7 160.1h0M1232.6 156.1h0M1232.1 167.1h0M1232.4 164.7h0M1232.8 166.5h0M1233.7 169.1h0M1233.3 169.0h0M1233.0 168.3h0M1234.4 171.4h0M1234.3 164.3h0M1236.8 162.8h0M1238.9 155.8h0M1238.6 152.0h0M1240.0 152.1h0M1240.0 152.4h0M1240.7 152.7h0M1240.5 157.0h0M1240.6 143.7h0M1241.2 150.3h0M1241.4 140.5h0M1242.3 145.0h0M1242.6 147.0h0M1242.0 139.7h0M1242.0 139.4h0M1242.3 146.9h0M1243.4 145.1h0M1244.4 144.2h0M1245.3 138.3h0M1246.5 147.2h0M1248.2 133.7h0M1251.5 126.3h0M1252.3 137.2h0M1252.5 134.4h0M1253.1 132.2h0M1255.3 142.6h0M1254.2 138.7h0M1256.0 142.9h0M1255.8 141.6h0M1256.2 140.2h0M1257.0 149.5h0M1257.0 148.3h0M1257.5 146.7h0M1258.3 149.3h0M1258.7 158.6h0M1259.7 153.9h0M1259.4 155.6h0M1259.9 158.7h0M1260.4 157.8h0M1258.9 153.9h0M1261.1 163.0h0M1259.8 164.1h0M1261.2 163.3h0M1261.2 164.7h0M1262.1 159.1h0M1263.3 159.6h0M1261.5 162.6h0M1262.9 154.6h0M1263.1 161.8h0M1263.9 156.9h0M1265.5 153.0h0M1265.4 156.5h0M1265.2 152.2h0M1265.1 145.1h0M1267.5 153.2h0M1265.6 149.4h0M1264.9 149.3h0M1266.0 146.7h0M1266.5 151.2h0M1267.2 146.1h0M1269.0 142.4h0M1268.7 148.6h0M1270.4 153.4h0M1269.8 147.6h0M1269.5 150.3h0M1270.2 152.2h0M1270.5 151.6h0M1272.0 159.3h0M1272.0 163.1h0M1271.7 167.4h0M1272.1 165.7h0M1272.9 168.7h0M1274.4 171.3h0M1273.2 174.0h0M1274.3 169.1h0M1274.9 176.0h0M1274.3 176.5h0M1275.1 175.6h0M1276.5 176.1h0M1276.2 175.6h0M1276.9 176.3h0M1278.1 169.2h0M1278.4 175.5h0M1277.9 172.3h0M1278.2 172.5h0M1279.7 172.9h0M1278.1 172.9h0M1280.4 162.2h0M1281.4 162.3h0M1281.0 156.2h0M1282.1 150.8h0M1281.8 151.9h0M1282.4 165.1h0M1282.9 151.0h0M1282.2 159.6h0M1282.9 164.5h0M1283.0 157.5h0M1283.4 167.3h0M1284.9 171.2h0M1284.6 168.5h0M1286.0 174.8h0M1287.0 169.0h0M1287.6 165.0h0M1287.6 170.8h0M1286.4 167.2h0M1288.2 164.3h0M1287.0 164.9h0M1287.5 179.6h0M1289.2 169.5h0M1288.2 173.4h0M1289.8 169.2h0M1289.8 170.9h0M1291.5 161.5h0M1291.6 158.8h0M1292.5 155.0h0M1292.2 153.4h0M1293.4 155.0h0M1293.8 157.7h0M1292.9 162.4h0M1293.5 157.9h0M1293.8 160.3h0M1293.5 154.0h0M1294.5 151.2h0M1295.9 146.7h0M1295.9 152.2h0M1295.1 143.7h0M1296.8 151.8h0M1297.6 159.6h0M1297.5 155.1h0M1299.2 159.5h0M1303.5 155.4h0" stroke="#000" stroke-width="3.80" stroke-linecap="round" fill="none"/>
<path d="M190.5 203.4h0M329.6 95.3h0M607.3 168.3h0M635.0 169.0h0M842.4 97.3h0M954.0 172.5h0" stroke="#ffa500" stroke-width="3.80" stroke-linecap="round" fill="none"/>
</g>
<rect x="105.5" y="35.5" width="1380.0" height="286.0" fill="none" stroke="#000" stroke-width="1.111"/>
<path d="M162.5 321.5v4.86M411.5 321.5v4.86M659.5 321.5v4.86M908.5 321.5v4.86M1156.5 321.5v4.86M1404.5 321.5v4.86" stroke="#000" stroke-width="1.111" fill="none"/>
<text x="162.50" y="341.70" font-size="14.17" text-anchor="middle" textLength="8.83" lengthAdjust="spacingAndGlyphs">0</text>
<text x="411.50" y="341.70" font-size="14.17" text-anchor="middle" textLength="26.48" lengthAdjust="spacingAndGlyphs">500</text>
<text x="659.50" y="341.70" font-size="14.17" text-anchor="middle" textLength="35.31" lengthAdjust="spacingAndGlyphs">1000</text>
<text x="908.50" y="341.70" font-size="14.17" text-anchor="middle" textLength="35.31" lengthAdjust="spacingAndGlyphs">1500</text>
<text x="1156.50" y="341.70" font-size="14.17" text-anchor="middle" textLength="35.31" lengthAdjust="spacingAndGlyphs">2000</text>
<text x="1404.50" y="341.70" font-size="14.17" text-anchor="middle" textLength="35.31" lengthAdjust="spacingAndGlyphs">2500</text>
<path d="M105.5 297.50h-4.86M105.5 257.50h-4.86M105.5 216.50h-4.86M105.5 176.50h-4.86M105.5 136.50h-4.86M105.5 96.50h-4.86M105.5 56.50h-4.86" stroke="#000" stroke-width="1.111" fill="none"/>
<text x="95.60" y="303.00" font-size="14.17" text-anchor="end" textLength="30.89" lengthAdjust="spacingAndGlyphs">6.34</text>
<text x="95.60" y="263.00" font-size="14.17" text-anchor="end" textLength="30.89" lengthAdjust="spacingAndGlyphs">6.36</text>
<text x="95.60" y="222.00" font-size="14.17" text-anchor="end" textLength="30.89" lengthAdjust="spacingAndGlyphs">6.38</text>
<text x="95.60" y="182.00" font-size="14.17" text-anchor="end" textLength="30.89" lengthAdjust="spacingAndGlyphs">6.40</text>
<text x="95.60" y="142.00" font-size="14.17" text-anchor="end" textLength="30.89" lengthAdjust="spacingAndGlyphs">6.42</text>
<text x="95.60" y="102.00" font-size="14.17" text-anchor="end" textLength="30.89" lengthAdjust="spacingAndGlyphs">6.44</text>
<text x="95.60" y="62.00" font-size="14.17" text-anchor="end" textLength="30.89" lengthAdjust="spacingAndGlyphs">6.46</text>
<text x="795.50" y="26.80" font-size="17.00" text-anchor="middle" textLength="197.12" lengthAdjust="spacingAndGlyphs">AGASC ID 185210920.0</text>
<text x="196.50" y="312.00" font-size="14.17" text-anchor="middle" textLength="44.14" lengthAdjust="spacingAndGlyphs">52157</text>
<text x="260.50" y="292.00" font-size="14.17" text-anchor="middle" textLength="44.14" lengthAdjust="spacingAndGlyphs">47466</text>
<text x="650.50" y="272.00" font-size="14.17" text-anchor="middle" textLength="44.14" lengthAdjust="spacingAndGlyphs">42646</text>
<text x="1156.50" y="312.00" font-size="14.17" text-anchor="middle" textLength="44.14" lengthAdjust="spacingAndGlyphs">42324</text>
<rect x="1361.30" y="42.40" width="117.40" height="27.00" rx="2.8" fill="#fff" fill-opacity="0.8" stroke="#cccccc" stroke-width="1.111"/>
<path d="M1366 53.9H1396" stroke="#008000" stroke-width="2.083"/>
<text x="1407.3" y="59" font-size="14.17" textLength="30.83" lengthAdjust="spacingAndGlyphs">mag</text>
<text x="1437.8" y="60.9" font-size="11" font-style="italic" textLength="34.5" lengthAdjust="spacingAndGlyphs">AGASC</text>
<rect x="1381.20" y="268.00" width="97.60" height="46.80" rx="2.8" fill="#fff" fill-opacity="0.8" stroke="#cccccc" stroke-width="1.111"/>
<path d="M1400.4 281.4h0" stroke="#ff0000" stroke-width="3.40" stroke-linecap="round" fill="none"/>
<path d="M1400.4 302.4h0" stroke="#000" stroke-width="3.40" stroke-linecap="round" fill="none"/>
<text x="1425.00" y="285.00" font-size="14.17" text-anchor="start" textLength="47.15" lengthAdjust="spacingAndGlyphs">not OK</text>
<text x="1425.60" y="305.80" font-size="14.17" text-anchor="start" textLength="20.02" lengthAdjust="spacingAndGlyphs">OK</text>
<g clip-path="url(#c2)">
<path d="M190.6 589.3h0M189.5 589.7h0M189.5 591.0h0M191.0 588.8h0M191.0 596.9h0M191.7 588.3h0M193.1 596.1h0M192.0 596.7h0M193.7 600.5h0M194.4 604.2h0M195.7 598.0h0M195.7 586.9h0M195.8 584.3h0M196.4 592.4h0M196.4 585.7h0M195.6 587.9h0M196.7 587.0h0M197.1 576.8h0M196.5 575.2h0M197.6 583.8h0M197.5 585.2h0M198.6 584.3h0M198.5 586.7h0M199.0 585.9h0M198.6 583.8h0M199.2 589.3h0M198.3 587.8h0M199.4 587.2h0M200.8 595.4h0M200.3 595.9h0M202.1 597.5h0M200.6 593.2h0M203.0 596.4h0M202.1 595.4h0M204.9 594.9h0M204.9 597.8h0M204.0 594.4h0M205.9 597.8h0M206.2 597.5h0M205.7 602.3h0M206.3 590.0h0M206.8 596.7h0M207.7 594.5h0M209.2 595.2h0M209.2 592.7h0M209.5 596.1h0M209.1 600.0h0M210.5 600.3h0M210.5 601.6h0M212.2 600.7h0M211.4 605.6h0M212.3 602.2h0M211.8 595.2h0M212.4 600.1h0M212.7 594.7h0M212.7 589.6h0M213.1 598.3h0M213.2 601.2h0M213.3 597.0h0M213.1 589.2h0M213.7 588.3h0M215.3 593.9h0M214.3 589.8h0M214.5 588.4h0M215.4 587.7h0M216.3 587.5h0M214.9 589.0h0M215.8 588.0h0M215.6 586.7h0M215.8 580.3h0M217.8 584.2h0M217.5 579.8h0M218.3 584.4h0M219.9 583.1h0M221.0 588.1h0M221.4 591.7h0M222.4 589.6h0M222.0 600.1h0M222.7 597.6h0M224.4 590.6h0M223.7 593.3h0M224.7 589.8h0M224.6 579.8h0M225.3 585.5h0M225.3 584.2h0M226.0 584.6h0M225.6 580.5h0M225.8 582.5h0M226.1 582.3h0M227.3 586.5h0M227.3 584.4h0M227.8 584.6h0M227.7 590.7h0M228.0 585.6h0M230.5 588.4h0M231.0 584.9h0M230.8 596.9h0M231.5 595.6h0M259.5 592.0h0M260.0 586.3h0M259.7 586.6h0M260.7 581.1h0M261.1 594.3h0M261.5 588.4h0M262.4 597.2h0M262.7 590.7h0M262.5 593.4h0M262.9 587.6h0M264.1 593.3h0M263.7 599.0h0M264.2 593.8h0M263.2 601.3h0M264.7 598.1h0M263.5 592.9h0M264.7 591.9h0M266.4 590.9h0M267.0 590.2h0M268.5 590.5h0M267.6 589.8h0M270.4 599.3h0M270.3 597.3h0M271.3 597.2h0M272.2 601.3h0M271.2 605.1h0M270.6 597.4h0M271.1 605.4h0M272.6 606.1h0M272.5 604.8h0M272.2 609.6h0M273.5 602.8h0M273.0 607.9h0M274.9 598.0h0M276.0 596.7h0M276.1 594.0h0M275.9 588.8h0M279.0 596.8h0M280.3 604.4h0M280.4 607.9h0M280.4 606.0h0M279.9 602.6h0M280.5 609.9h0M282.0 611.4h0M281.5 614.6h0M281.7 608.7h0M282.4 612.7h0M281.0 608.2h0M283.3 611.5h0M284.0 605.4h0M284.6 601.9h0M284.2 607.4h0M285.6 609.8h0M286.2 598.6h0M286.2 597.6h0M286.5 598.6h0M287.6 597.1h0M287.5 601.9h0M288.2 590.5h0M290.3 590.2h0M289.9 594.1h0M317.1 494.9h0M317.1 496.1h0M318.2 496.3h0M319.2 504.3h0M320.0 496.3h0M319.7 500.3h0M321.0 498.3h0M321.2 502.7h0M321.6 504.4h0M321.2 509.1h0M321.7 502.4h0M320.7 506.6h0M321.1 505.7h0M323.6 505.6h0M321.4 509.3h0M324.3 511.8h0M324.7 504.7h0M324.5 513.3h0M324.6 511.1h0M325.4 506.3h0M325.6 502.2h0M325.8 510.2h0M325.1 504.2h0M326.2 505.8h0M326.0 505.9h0M326.3 499.4h0M327.0 502.2h0M327.3 498.8h0M327.4 499.2h0M328.1 490.5h0M329.1 490.0h0M329.8 491.0h0M330.1 486.9h0M331.2 490.6h0M330.3 490.3h0M331.1 496.1h0M331.9 493.3h0M330.9 495.9h0M331.9 497.6h0M332.0 498.8h0M332.1 500.3h0M331.3 499.0h0M331.9 508.0h0M332.9 508.0h0M334.0 507.8h0M334.4 508.0h0M334.0 516.1h0M334.7 513.0h0M334.6 511.1h0M335.5 512.1h0M335.2 512.0h0M335.9 515.2h0M337.5 509.0h0M336.8 515.2h0M336.0 505.3h0M337.7 508.1h0M337.3 502.6h0M337.8 511.3h0M339.8 503.2h0M339.5 503.5h0M339.0 505.7h0M340.5 506.4h0M342.1 496.6h0M342.0 497.6h0M342.2 493.4h0M342.9 500.0h0M343.9 501.6h0M344.2 501.0h0M344.7 500.5h0M344.7 501.5h0M346.5 507.1h0M346.8 511.9h0M346.8 516.5h0M346.1 507.9h0M347.2 514.7h0M347.6 514.1h0M348.1 518.1h0M348.9 513.3h0M348.4 514.9h0M348.6 509.8h0M351.1 511.4h0M350.8 508.7h0M351.1 505.9h0M353.2 500.9h0M353.4 498.6h0M353.6 491.9h0M352.3 497.4h0M353.8 494.9h0M354.0 493.3h0M355.5 490.5h0M356.2 491.3h0M356.8 483.9h0M356.1 486.0h0M355.8 494.0h0M358.1 495.1h0M356.7 488.7h0M356.4 487.6h0M357.4 490.2h0M357.6 491.0h0M357.1 488.0h0M358.2 494.0h0M357.9 491.7h0M357.8 492.6h0M359.1 502.2h0M359.6 497.8h0M359.0 500.6h0M359.9 504.3h0M359.7 505.0h0M361.7 502.3h0M359.7 503.9h0M361.2 502.4h0M360.5 511.3h0M360.5 508.1h0M361.5 504.0h0M361.7 508.4h0M362.0 510.9h0M361.6 510.9h0M362.1 519.5h0M362.6 517.7h0M364.5 506.1h0M365.0 505.5h0M365.7 500.6h0M365.6 503.6h0M366.3 502.1h0M367.8 505.0h0M367.0 496.4h0M366.1 488.8h0M366.6 492.3h0M366.6 494.1h0M369.0 487.5h0M367.7 489.2h0M369.1 491.4h0M370.5 500.2h0M371.7 500.5h0M371.3 498.3h0M370.9 504.5h0M370.8 500.2h0M371.6 502.7h0M372.1 501.5h0M372.0 504.5h0M374.2 516.1h0M375.3 509.1h0M373.4 514.4h0M375.0 518.4h0M374.6 516.1h0M376.0 520.6h0M377.6 520.8h0M377.4 529.2h0M378.2 527.6h0M377.3 523.4h0M379.4 515.4h0M378.8 516.6h0M379.6 523.0h0M379.9 523.9h0M378.5 518.4h0M379.6 521.4h0M380.6 514.4h0M381.7 514.6h0M381.0 515.1h0M381.1 516.2h0M380.3 509.4h0M382.6 515.7h0M382.8 516.8h0M382.0 508.0h0M383.6 502.4h0M383.6 505.4h0M385.5 501.1h0M386.8 495.0h0M385.8 504.8h0M386.6 505.5h0M386.9 507.0h0M386.0 515.9h0M390.1 523.6h0M389.4 525.6h0M394.4 524.2h0M395.1 519.8h0M395.7 520.3h0M395.7 523.5h0M395.8 520.3h0M395.3 520.2h0M396.4 526.4h0M399.0 523.2h0M398.7 522.9h0M398.6 522.0h0M398.7 521.8h0M400.4 524.6h0M399.8 519.7h0M400.5 525.7h0M400.3 516.6h0M402.0 518.7h0M402.3 515.0h0M404.3 518.0h0M404.0 520.3h0M405.2 523.1h0M406.7 516.1h0M406.1 518.2h0M406.5 516.8h0M408.1 515.2h0M407.4 513.2h0M407.4 516.7h0M407.5 510.7h0M409.1 516.1h0M410.0 514.8h0M409.7 511.9h0M411.8 508.8h0M413.0 507.3h0M413.1 517.8h0M413.3 506.4h0M414.3 515.6h0M415.1 511.9h0M414.0 509.6h0M415.3 508.2h0M415.8 515.5h0M416.0 519.8h0M415.4 511.8h0M416.7 514.6h0M417.8 520.2h0M418.4 518.0h0M416.2 523.7h0M419.2 515.6h0M417.0 519.3h0M418.5 514.2h0M419.6 527.5h0M419.5 518.3h0M419.4 514.5h0M419.3 523.3h0M420.6 523.8h0M420.1 531.1h0M419.1 524.1h0M423.7 528.8h0M423.3 533.0h0M424.3 537.2h0M422.7 531.8h0M424.4 536.2h0M424.8 535.3h0M425.0 532.7h0M425.4 530.5h0M425.2 529.2h0M425.9 525.7h0M424.9 532.2h0M425.8 522.2h0M426.9 530.4h0M427.2 527.4h0M428.1 522.9h0M428.2 520.4h0M429.5 521.9h0M429.7 522.9h0M429.0 523.5h0M430.4 520.4h0M429.8 521.1h0M430.8 514.2h0M431.7 516.3h0M430.8 509.3h0M432.7 513.7h0M432.4 510.7h0M434.2 506.5h0M435.3 511.2h0M434.2 508.8h0M435.0 497.9h0M434.4 507.5h0M434.6 503.4h0M435.1 513.2h0M436.8 518.1h0M437.4 508.5h0M436.6 511.3h0M436.4 511.7h0M439.4 519.9h0M440.5 525.6h0M441.9 529.9h0M442.5 524.9h0M442.9 534.4h0M444.2 529.4h0M445.6 528.4h0M448.0 524.9h0M447.6 522.3h0M449.4 514.2h0M449.0 514.4h0M449.8 515.0h0M449.6 515.7h0M450.4 519.1h0M450.9 510.3h0M450.0 515.4h0M451.1 513.9h0M451.2 513.2h0M452.7 513.0h0M453.6 517.2h0M454.1 516.2h0M454.7 520.5h0M456.4 521.0h0M455.2 526.3h0M458.1 516.8h0M457.7 529.3h0M457.2 526.1h0M462.3 525.9h0M462.8 519.5h0M461.4 516.0h0M462.2 520.5h0M462.3 518.2h0M462.5 521.8h0M462.0 513.8h0M462.6 522.7h0M463.4 518.5h0M463.6 515.8h0M464.3 513.9h0M463.7 513.3h0M465.4 510.7h0M464.1 510.5h0M466.0 507.6h0M465.5 503.8h0M466.8 502.9h0M468.6 507.6h0M467.6 507.1h0M468.7 511.2h0M468.6 517.8h0M469.5 519.2h0M470.1 516.8h0M470.1 513.1h0M470.6 515.6h0M472.0 517.2h0M472.6 524.9h0M471.9 519.8h0M472.2 519.4h0M472.9 517.1h0M472.7 519.2h0M473.9 520.4h0M475.1 511.8h0M474.3 511.1h0M474.3 506.1h0M474.6 508.5h0M474.2 502.2h0M474.3 501.0h0M474.3 500.0h0M474.9 498.6h0M475.5 500.2h0M476.3 506.3h0M475.7 494.4h0M476.1 498.6h0M475.7 494.9h0M477.9 487.3h0M477.2 489.8h0M478.1 489.1h0M477.7 486.2h0M479.0 497.0h0M478.3 485.8h0M479.3 494.9h0M480.5 494.9h0M478.3 492.5h0M479.9 495.3h0M481.2 501.1h0M480.6 499.5h0M480.9 500.7h0M481.2 501.6h0M480.5 494.3h0M481.2 506.0h0M480.5 508.8h0M480.8 505.4h0M481.4 507.6h0M481.9 500.3h0M482.1 504.7h0M482.7 503.8h0M481.9 505.8h0M485.1 514.8h0M486.2 503.3h0M486.4 503.3h0M486.1 496.2h0M486.6 500.4h0M487.5 499.1h0M488.0 493.9h0M486.9 492.8h0M488.6 500.4h0M490.7 487.1h0M488.2 485.8h0M491.1 487.3h0M491.0 495.2h0M490.8 498.6h0M491.8 492.9h0M490.5 490.9h0M491.3 491.8h0M492.6 498.7h0M491.8 493.8h0M492.0 502.9h0M492.9 505.2h0M492.6 501.3h0M494.1 504.2h0M492.8 505.6h0M494.0 509.0h0M493.5 503.9h0M494.7 511.5h0M494.9 509.6h0M493.6 509.2h0M495.7 514.3h0M495.0 513.4h0M495.5 511.4h0M497.4 508.2h0M495.9 509.5h0M499.9 498.6h0M501.7 499.0h0M501.4 492.6h0M502.3 494.1h0M501.5 488.5h0M502.2 492.6h0M503.1 494.6h0M504.4 491.3h0M505.0 493.1h0M504.6 497.0h0M504.9 496.2h0M504.9 493.9h0M504.6 498.6h0M506.4 496.9h0M509.1 508.7h0M509.7 507.9h0M510.7 508.2h0M511.7 509.9h0M511.8 509.4h0M512.8 510.7h0M512.8 512.3h0M513.9 515.9h0M513.1 515.5h0M513.8 517.3h0M515.7 507.4h0M517.0 510.7h0M518.6 510.2h0M519.8 511.9h0M519.5 509.8h0M520.2 509.1h0M521.9 513.2h0M521.2 511.1h0M520.7 506.7h0M521.7 514.7h0M521.7 513.5h0M522.6 508.7h0M523.3 513.5h0M524.1 510.2h0M523.3 516.8h0M525.0 513.6h0M525.4 512.5h0M525.4 514.0h0M525.7 514.7h0M528.0 520.6h0M529.2 522.4h0M529.8 521.9h0M529.5 519.6h0M530.8 509.4h0M529.7 521.6h0M531.6 514.4h0M532.7 521.2h0M532.9 523.3h0M533.1 520.4h0M534.8 517.8h0M534.0 518.5h0M535.1 517.9h0M535.6 516.5h0M537.0 515.8h0M536.9 513.5h0M538.2 520.2h0M538.7 515.8h0M539.6 518.2h0M540.2 513.5h0M540.8 513.6h0M541.8 512.3h0M543.0 511.2h0M544.1 511.5h0M544.6 509.2h0M544.6 505.0h0M546.1 503.0h0M548.2 509.0h0M547.5 502.5h0M547.0 502.4h0M547.5 507.9h0M547.3 506.0h0M549.2 502.3h0M549.7 499.1h0M548.9 507.7h0M549.5 500.9h0M551.5 499.4h0M552.3 494.1h0M555.5 488.2h0M556.2 488.0h0M557.0 493.4h0M557.5 493.3h0M561.0 490.6h0M560.0 488.6h0M560.3 489.9h0M560.6 495.2h0M561.1 493.4h0M562.2 504.2h0M562.2 506.5h0M563.9 515.3h0M563.0 510.1h0M564.6 510.2h0M564.4 512.0h0M564.7 503.9h0M563.9 515.7h0M565.2 520.3h0M566.4 521.5h0M566.6 519.6h0M565.6 519.2h0M570.1 511.8h0M569.7 512.4h0M570.2 513.6h0M570.5 505.0h0M571.1 505.6h0M572.1 501.3h0M571.1 511.1h0M572.5 514.1h0M573.2 512.3h0M574.2 510.7h0M574.0 515.6h0M573.9 514.4h0M574.3 517.7h0M575.1 518.3h0M576.7 524.1h0M575.4 521.2h0M577.3 526.8h0M577.4 527.2h0M577.6 529.4h0M578.4 530.2h0M577.3 530.5h0M577.2 534.7h0M579.0 530.5h0M579.8 531.6h0M581.9 524.5h0M582.2 520.0h0M582.8 527.3h0M582.1 519.4h0M584.0 524.2h0M583.8 521.2h0M584.8 513.2h0M585.6 514.0h0M585.9 513.8h0M587.1 515.4h0M588.1 515.9h0M590.6 526.5h0M591.1 523.5h0M591.3 526.0h0M591.0 524.8h0M591.8 528.8h0M592.2 526.3h0M593.1 528.9h0M591.7 531.2h0M594.1 530.3h0M593.1 528.9h0M593.4 527.9h0M595.1 534.2h0M595.6 534.9h0M595.4 533.4h0M597.2 531.0h0M597.1 533.0h0M598.1 537.7h0M598.2 528.3h0M597.5 530.0h0M598.7 528.4h0M598.2 517.6h0M598.6 524.6h0M598.1 521.5h0M600.1 520.5h0M601.0 513.7h0M600.3 509.3h0M602.0 511.6h0M602.6 516.8h0M602.7 514.7h0M601.3 516.9h0M602.6 512.9h0M604.4 523.6h0M604.5 531.4h0M606.0 539.9h0M604.9 537.7h0M606.8 536.6h0M606.3 541.0h0M607.4 540.0h0M605.9 541.7h0M607.9 538.3h0M607.4 534.3h0M608.8 533.3h0M608.0 532.3h0M608.5 531.6h0M611.2 528.3h0M609.8 523.8h0M610.1 518.9h0M610.4 523.3h0M610.6 517.0h0M612.1 523.3h0M613.1 521.1h0M611.7 515.5h0M611.1 523.0h0M613.0 523.3h0M613.1 520.4h0M612.9 525.4h0M613.2 525.9h0M613.5 515.9h0M615.6 529.6h0M615.0 528.2h0M615.8 530.9h0M617.4 533.3h0M617.4 531.6h0M623.3 523.5h0M622.3 521.8h0M622.4 519.9h0M624.0 519.4h0M624.7 514.9h0M624.6 513.8h0M624.7 515.1h0M626.5 509.7h0M627.2 510.9h0M627.0 504.3h0M627.4 509.6h0M629.0 511.9h0M628.8 514.7h0M628.2 513.2h0M628.8 518.7h0M629.3 517.4h0M630.0 517.9h0M629.9 518.1h0M630.8 521.0h0M631.0 518.7h0M630.4 526.1h0M631.7 524.2h0M633.3 527.1h0M633.1 527.0h0M633.7 529.2h0M633.6 533.4h0M635.0 537.8h0M636.2 536.4h0M635.4 539.0h0M634.9 536.1h0M636.9 539.6h0M636.2 534.8h0M637.0 527.2h0M636.7 537.7h0M636.8 533.5h0M637.6 528.1h0M638.6 530.4h0M639.8 526.8h0M638.6 535.7h0M640.6 530.2h0M640.3 522.0h0M640.9 528.0h0M642.3 524.2h0M643.8 528.2h0M643.7 517.2h0M646.3 512.2h0M645.1 519.0h0M647.5 515.0h0M649.9 511.8h0M650.8 506.0h0M651.0 512.7h0M651.9 516.6h0M651.5 504.2h0M653.7 512.9h0M653.0 506.7h0M653.3 516.1h0M655.0 509.5h0M654.3 507.1h0M654.2 511.3h0M656.5 508.1h0M655.9 503.8h0M655.7 508.1h0M658.3 506.5h0M659.1 505.2h0M660.6 517.8h0M661.1 510.7h0M660.7 510.9h0M661.2 514.8h0M661.8 508.7h0M662.2 510.1h0M662.8 514.7h0M665.2 516.7h0M664.6 520.2h0M665.6 523.6h0M666.0 519.0h0M666.8 523.1h0M667.7 524.3h0M666.8 518.9h0M668.3 523.8h0M667.9 519.9h0M668.0 525.5h0M667.7 523.3h0M670.0 516.7h0M671.4 511.1h0M670.9 515.2h0M671.5 512.3h0M672.5 516.1h0M672.7 513.1h0M673.1 510.7h0M672.2 515.7h0M672.0 514.4h0M673.9 508.5h0M674.9 510.9h0M675.9 505.0h0M675.4 504.5h0M677.2 503.5h0M678.0 498.2h0M679.0 496.7h0M680.1 499.9h0M680.6 506.7h0M681.2 508.1h0M683.8 508.2h0M684.5 514.9h0M683.7 509.7h0M685.1 511.2h0M684.3 513.5h0M685.1 512.0h0M684.5 519.0h0M685.5 514.3h0M688.0 512.2h0M687.4 522.1h0M696.0 493.2h0M695.3 494.1h0M697.1 492.4h0M695.9 497.9h0M696.8 499.1h0M697.0 500.1h0M697.3 498.4h0M698.7 505.9h0M698.5 502.5h0M699.9 493.7h0M700.9 504.2h0M701.0 506.4h0M700.7 509.9h0M700.5 507.0h0M701.8 508.2h0M701.6 507.5h0M703.5 513.6h0M704.8 514.1h0M706.9 509.5h0M706.6 506.7h0M707.0 508.5h0M706.8 503.1h0M707.0 498.0h0M707.3 505.0h0M707.7 498.6h0M706.8 501.7h0M707.5 501.4h0M708.9 503.2h0M707.4 501.4h0M707.6 493.6h0M707.4 494.2h0M707.8 492.1h0M709.7 503.1h0M709.0 499.1h0M709.2 502.4h0M710.7 499.4h0M711.4 494.8h0M709.4 506.9h0M710.6 502.4h0M710.8 504.3h0M710.7 504.5h0M710.8 506.6h0M710.6 506.4h0M713.4 507.8h0M713.2 518.0h0M713.4 514.1h0M714.4 513.3h0M714.4 519.8h0M714.1 517.1h0M714.7 509.6h0M715.8 503.4h0M715.3 508.7h0M716.2 503.9h0M715.8 501.7h0M716.7 495.1h0M716.6 494.9h0M717.3 493.0h0M717.7 496.4h0M716.6 497.0h0M718.0 496.7h0M718.7 489.5h0M719.4 494.4h0M718.9 496.4h0M720.6 494.8h0M719.7 497.0h0M719.5 505.0h0M719.6 499.0h0M720.9 504.4h0M721.6 500.6h0M721.8 503.1h0M721.6 499.2h0M721.4 507.9h0M722.1 513.6h0M722.3 518.5h0M722.8 516.0h0M721.9 514.5h0M723.0 512.5h0M723.4 510.6h0M724.3 516.2h0M725.1 517.5h0M724.6 511.9h0M724.5 516.8h0M725.5 509.4h0M726.7 506.4h0M727.2 507.2h0M729.0 497.7h0M731.0 496.0h0M730.8 502.2h0M732.1 497.2h0M731.9 497.4h0M732.4 503.1h0M733.7 507.1h0M733.6 506.3h0M733.7 513.7h0M735.4 522.2h0M736.9 523.8h0M736.8 526.1h0M736.9 520.3h0M737.0 524.2h0M738.1 526.6h0M738.0 526.3h0M738.6 520.6h0M741.4 516.2h0M742.7 515.7h0M742.5 515.6h0M741.7 512.1h0M742.6 513.0h0M744.8 502.8h0M744.9 501.5h0M746.0 503.1h0M744.8 499.1h0M747.2 494.8h0M746.7 500.7h0M748.4 493.1h0M747.9 489.3h0M749.1 495.0h0M748.1 499.5h0M747.7 493.8h0M748.7 499.4h0M749.1 494.4h0M749.6 495.7h0M751.9 497.4h0M752.3 499.7h0M752.2 507.6h0M751.8 498.6h0M753.3 509.8h0M753.0 501.3h0M754.4 504.2h0M753.8 507.7h0M755.5 510.8h0M755.1 510.0h0M754.9 505.2h0M755.7 511.7h0M755.6 507.3h0M756.9 519.3h0M757.7 510.8h0M757.2 512.1h0M757.7 508.0h0M759.7 510.7h0M759.9 509.2h0M760.7 517.1h0M761.6 513.4h0M762.1 516.6h0M762.4 512.6h0M764.1 513.9h0M764.9 519.8h0M762.9 512.5h0M764.9 510.4h0M765.0 517.6h0M766.0 511.5h0M765.9 513.7h0M766.6 516.6h0M769.2 507.3h0M768.6 512.4h0M769.0 506.9h0M770.3 511.5h0M771.5 508.7h0M771.4 502.6h0M774.1 505.3h0M773.8 503.9h0M774.1 507.6h0M774.6 511.9h0M774.1 503.6h0M774.3 511.5h0M774.6 504.9h0M775.6 506.9h0M775.7 505.2h0M775.9 518.6h0M776.8 512.2h0M777.5 513.7h0M776.2 510.8h0M778.7 517.2h0M778.1 507.6h0M778.9 516.4h0M781.2 526.4h0M783.4 520.8h0M784.0 520.8h0M786.2 522.2h0M785.4 515.7h0M787.8 515.8h0M788.7 518.5h0M788.3 515.0h0M789.0 515.3h0M790.3 511.0h0M791.5 513.2h0M789.9 511.6h0M791.1 514.6h0M791.6 512.2h0M792.7 505.9h0M792.4 497.8h0M794.6 505.6h0M794.6 505.2h0M795.6 498.1h0M796.1 494.4h0M796.2 496.9h0M796.1 502.9h0M797.7 493.0h0M797.5 493.6h0M798.7 494.6h0M799.1 497.4h0M798.8 493.2h0M799.8 491.6h0M799.7 490.4h0M801.8 501.9h0M802.3 500.6h0M801.0 498.5h0M802.0 497.1h0M802.0 501.4h0M803.5 509.5h0M803.3 507.3h0M803.8 516.8h0M805.0 523.3h0M805.5 523.7h0M805.1 523.6h0M806.8 520.4h0M806.1 515.5h0M807.1 515.9h0M807.5 521.9h0M808.3 509.6h0M807.6 512.0h0M808.5 515.9h0M807.8 509.9h0M809.1 506.4h0M808.6 504.4h0M809.3 508.6h0M809.9 507.4h0M810.5 508.3h0M809.0 502.6h0M810.8 504.4h0M810.8 496.0h0M813.0 499.1h0M811.3 496.1h0M812.2 498.4h0M812.8 499.1h0M815.5 499.2h0M816.0 489.5h0M817.4 496.1h0M817.1 490.3h0M816.4 488.5h0M817.7 490.7h0M819.2 485.9h0M818.7 490.8h0M819.7 493.2h0M819.3 493.4h0M819.6 495.9h0M819.8 495.0h0M820.4 496.8h0M821.6 493.3h0M820.8 498.4h0M821.3 498.1h0M821.3 501.6h0M821.5 504.0h0M823.9 509.6h0M823.2 507.1h0M823.6 508.5h0M824.1 512.9h0M824.6 518.2h0M826.0 517.9h0M823.5 519.9h0M825.2 521.4h0M826.0 518.6h0M825.4 513.8h0M825.7 510.2h0M826.5 509.2h0M827.3 510.6h0M826.2 509.9h0M825.9 509.1h0M827.5 507.5h0M828.0 506.0h0M827.1 506.6h0M826.1 504.3h0M828.4 503.9h0M827.5 503.6h0M828.4 500.1h0M827.9 496.9h0M827.8 501.7h0M827.8 501.5h0M829.4 501.1h0M829.9 502.4h0M828.0 512.0h0M828.8 502.3h0M830.7 505.1h0M829.5 506.9h0M830.1 506.7h0M832.1 515.4h0M833.0 524.1h0M833.6 523.4h0M834.0 524.7h0M834.5 526.1h0M835.3 519.6h0M836.0 520.8h0M836.1 513.0h0M836.4 512.0h0M837.0 511.2h0M837.9 513.3h0M837.4 511.3h0M837.6 509.7h0M838.7 496.9h0M839.0 505.1h0M840.4 503.4h0M840.1 499.9h0M840.9 494.5h0M840.8 491.5h0M840.2 494.2h0M840.1 489.2h0M841.3 492.4h0M841.1 488.1h0M841.5 490.9h0M841.5 495.4h0M841.9 486.5h0M843.5 495.5h0M844.2 493.9h0M845.0 494.7h0M845.4 503.5h0M846.9 505.1h0M846.4 511.1h0M847.5 504.7h0M847.6 513.4h0M847.2 518.1h0M848.5 517.6h0M847.8 518.3h0M848.9 517.3h0M849.4 511.1h0M851.2 515.6h0M851.4 514.2h0M852.3 514.5h0M852.0 520.4h0M852.7 511.3h0M853.9 508.9h0M853.5 512.5h0M855.4 500.1h0M856.7 499.5h0M856.1 502.2h0M857.4 502.7h0M858.3 508.7h0M858.9 507.0h0M859.7 513.7h0M860.3 513.2h0M859.5 511.6h0M859.7 508.3h0M859.1 512.6h0M861.5 514.4h0M861.4 508.1h0M860.5 512.3h0M862.8 511.8h0M863.0 510.1h0M862.3 514.3h0M864.0 509.9h0M864.2 501.8h0M866.1 503.1h0M864.8 499.7h0M868.6 497.7h0M871.1 493.4h0M870.0 499.2h0M870.6 498.5h0M870.4 500.9h0M870.0 497.9h0M871.2 494.9h0M872.0 506.9h0M871.7 502.3h0M874.0 511.2h0M875.0 509.4h0M875.1 510.8h0M873.8 515.6h0M874.3 510.9h0M874.9 517.0h0M877.0 509.2h0M877.5 518.9h0M878.5 515.3h0M878.1 515.3h0M878.1 515.6h0M879.8 516.1h0M880.1 520.2h0M880.0 508.4h0M880.7 514.5h0M884.5 509.7h0M885.3 515.1h0M884.8 509.8h0M884.6 512.3h0M885.9 509.4h0M886.2 512.8h0M888.3 512.4h0M888.4 507.6h0M888.6 508.9h0M889.8 503.8h0M889.5 509.4h0M890.0 510.9h0M889.7 506.1h0M890.6 511.8h0M892.7 504.2h0M892.9 506.5h0M893.1 508.6h0M894.3 512.8h0M895.2 514.4h0M896.9 518.0h0M899.1 520.6h0M898.3 523.5h0M898.7 520.5h0M898.5 518.8h0M899.4 519.6h0M900.9 530.9h0M900.5 516.8h0M902.1 525.0h0M902.1 530.3h0M902.6 525.4h0M903.0 519.9h0M903.7 521.5h0M904.3 523.8h0M904.8 523.6h0M905.9 514.6h0M906.1 519.1h0M905.8 516.8h0M906.1 519.5h0M906.5 520.7h0M907.7 515.3h0M906.4 513.2h0M907.8 519.9h0M909.9 525.7h0M908.6 523.2h0M908.3 522.1h0M909.0 529.2h0M911.4 522.5h0M911.0 530.0h0M912.4 527.7h0M912.8 528.7h0M912.6 528.7h0M915.0 532.8h0M914.3 523.2h0M914.3 524.0h0M916.7 517.0h0M918.5 521.9h0M918.7 518.7h0M919.2 521.0h0M919.3 515.5h0M919.5 516.1h0M920.8 520.5h0M920.4 516.3h0M920.5 518.9h0M920.8 517.1h0M921.4 514.1h0M922.1 509.0h0M922.8 516.9h0M923.1 512.5h0M924.2 515.3h0M924.8 506.4h0M925.2 509.3h0M926.0 508.3h0M926.2 513.0h0M927.7 519.9h0M925.9 518.6h0M928.8 518.9h0M928.9 520.7h0M930.3 523.8h0M932.6 522.5h0M932.1 525.3h0M933.7 525.0h0M933.1 517.3h0M935.8 520.1h0M937.3 519.5h0M937.8 512.6h0M937.8 509.2h0M938.0 507.5h0M941.7 508.4h0M941.1 514.5h0M941.4 511.3h0M941.9 509.8h0M941.0 503.3h0M942.6 512.8h0M944.4 518.5h0M945.0 520.5h0M944.6 530.2h0M946.0 532.9h0M946.3 528.7h0M947.4 536.8h0M948.5 529.3h0M948.9 522.0h0M949.0 524.8h0M949.3 515.6h0M947.6 514.9h0M950.0 512.6h0M949.6 511.8h0M949.8 518.2h0M949.6 510.9h0M949.2 510.1h0M950.6 508.5h0M951.8 515.7h0M952.3 514.1h0M951.2 518.4h0M951.1 514.0h0M952.6 513.1h0M951.4 516.9h0M953.8 523.1h0M952.7 520.6h0M952.4 526.3h0M953.7 532.4h0M954.4 526.2h0M952.5 528.3h0M954.6 534.6h0M953.6 528.9h0M954.8 528.9h0M953.7 528.3h0M954.3 537.0h0M955.6 537.2h0M956.5 533.4h0M957.3 533.7h0M957.2 537.2h0M957.6 533.2h0M957.9 523.7h0M957.9 527.6h0M958.7 526.4h0M958.8 527.3h0M959.3 523.7h0M962.2 524.6h0M964.4 527.3h0M964.4 523.1h0M966.2 529.8h0M965.3 528.3h0M965.0 533.2h0M965.7 528.5h0M965.9 534.6h0M967.2 528.4h0M966.8 526.1h0M969.1 530.1h0M968.8 525.1h0M968.0 527.0h0M968.7 521.5h0M969.3 525.4h0M969.2 518.8h0M969.6 520.3h0M968.9 519.8h0M969.2 522.7h0M969.8 520.6h0M970.6 517.5h0M969.9 519.1h0M969.8 516.6h0M971.2 517.4h0M971.0 512.6h0M972.5 508.7h0M972.5 505.1h0M973.1 505.7h0M974.3 500.2h0M973.6 502.8h0M973.8 504.6h0M973.5 505.6h0M974.0 502.5h0M976.9 505.1h0M977.6 509.6h0M977.7 509.9h0M978.3 514.0h0M977.1 509.2h0M977.1 509.9h0M978.0 514.2h0M977.6 510.8h0M978.4 513.9h0M977.9 520.4h0M979.3 519.9h0M978.1 517.4h0M980.2 519.1h0M980.0 513.4h0M982.4 516.0h0M982.3 511.5h0M984.6 509.2h0M983.5 506.0h0M984.5 506.9h0M986.6 503.4h0M985.4 505.0h0M986.5 507.2h0M989.3 497.1h0M988.2 490.6h0M990.3 494.1h0M992.1 495.7h0M991.2 498.4h0M992.3 502.9h0M992.3 504.2h0M993.6 504.0h0M995.3 509.1h0M996.3 508.7h0M998.1 506.6h0M996.3 507.8h0M997.7 509.6h0M999.7 521.0h0M997.9 512.0h0M998.3 521.0h0M999.9 521.6h0M999.6 517.6h0M1001.0 519.9h0M1002.3 519.8h0M1001.6 522.1h0M1001.6 525.2h0M1001.6 523.4h0M1004.3 525.6h0M1004.0 525.7h0M1006.5 521.1h0M1007.0 520.3h0M1006.9 518.2h0M1009.7 518.4h0M1009.7 513.3h0M1009.8 517.8h0M1009.0 516.8h0M1010.1 512.5h0M1047.4 520.9h0M1047.4 513.1h0M1048.2 515.4h0M1048.2 523.6h0M1048.9 522.0h0M1050.9 527.4h0M1050.4 527.7h0M1050.8 531.4h0M1050.5 523.6h0M1051.4 526.3h0M1051.6 531.0h0M1052.3 540.6h0M1053.3 537.5h0M1052.8 527.0h0M1053.2 533.5h0M1053.5 531.9h0M1051.7 527.4h0M1054.7 519.1h0M1055.9 523.0h0M1056.4 526.0h0M1055.7 522.8h0M1057.7 528.2h0M1058.1 527.5h0M1057.5 528.2h0M1058.7 526.8h0M1059.0 531.1h0M1059.4 534.5h0M1058.7 535.0h0M1060.3 538.4h0M1059.4 536.6h0M1059.4 537.7h0M1059.7 529.6h0M1059.4 536.4h0M1060.5 532.0h0M1060.6 530.2h0M1061.1 529.6h0M1060.8 535.8h0M1060.8 531.7h0M1062.0 523.8h0M1062.7 522.1h0M1062.1 525.3h0M1065.1 521.9h0M1063.7 529.3h0M1064.9 520.9h0M1066.0 519.8h0M1066.5 525.7h0M1066.0 526.6h0M1066.7 527.9h0M1069.8 533.2h0M1071.4 540.6h0M1073.4 537.4h0M1073.1 537.6h0M1075.0 536.9h0M1076.1 542.7h0M1076.3 543.6h0M1074.2 538.8h0M1076.6 539.3h0M1077.2 533.2h0M1078.5 534.4h0M1078.8 530.1h0M1079.5 524.5h0M1079.7 522.9h0M1080.1 512.8h0M1080.5 510.1h0M1082.1 512.1h0M1080.7 514.0h0M1081.3 516.9h0M1082.5 507.1h0M1081.9 505.6h0M1080.8 504.3h0M1082.5 512.3h0M1082.1 510.5h0M1082.3 507.5h0M1083.2 512.6h0M1082.9 512.3h0M1082.7 505.5h0M1083.8 515.7h0M1084.0 515.8h0M1083.8 514.1h0M1084.3 516.0h0M1085.8 529.1h0M1086.6 530.2h0M1086.6 531.4h0M1088.7 524.7h0M1088.2 526.4h0M1088.0 531.6h0M1089.8 525.1h0M1089.2 526.9h0M1090.3 523.7h0M1093.1 536.6h0M1093.4 534.1h0M1093.4 532.2h0M1094.4 531.7h0M1094.5 529.9h0M1097.5 527.1h0M1096.6 530.2h0M1098.2 524.5h0M1096.7 530.0h0M1097.7 523.2h0M1099.9 519.8h0M1099.4 526.3h0M1099.3 521.0h0M1100.9 520.9h0M1100.4 516.9h0M1101.1 510.9h0M1100.1 519.2h0M1101.3 512.5h0M1101.3 520.1h0M1102.4 510.7h0M1103.0 509.8h0M1102.4 517.8h0M1104.3 519.1h0M1103.0 518.1h0M1102.9 515.2h0M1103.4 523.4h0M1106.4 517.0h0M1105.6 520.7h0M1106.5 522.0h0M1106.7 523.9h0M1106.5 527.9h0M1109.2 525.4h0M1109.4 531.4h0M1110.9 532.6h0M1110.1 525.6h0M1109.8 529.3h0M1111.8 532.0h0M1111.1 531.3h0M1111.6 534.4h0M1113.8 524.8h0M1112.8 533.2h0M1114.1 532.4h0M1113.7 528.7h0M1113.3 524.7h0M1114.3 528.8h0M1115.5 523.1h0M1116.8 526.3h0M1116.6 524.2h0M1116.5 526.1h0M1117.6 520.8h0M1117.6 526.7h0M1117.6 513.5h0M1119.0 516.3h0M1118.7 520.4h0M1120.0 512.2h0M1119.3 519.1h0M1119.9 512.7h0M1120.8 515.6h0M1120.2 512.1h0M1121.3 511.8h0M1121.9 512.4h0M1123.2 510.5h0M1122.5 510.2h0M1124.1 520.9h0M1125.4 515.7h0M1124.8 512.9h0M1123.7 519.1h0M1124.8 519.1h0M1125.5 520.9h0M1126.3 527.1h0M1127.4 518.9h0M1127.5 526.6h0M1128.5 530.0h0M1128.2 526.4h0M1128.7 529.2h0M1129.0 519.1h0M1129.5 527.8h0M1130.2 536.6h0M1130.5 525.9h0M1130.1 530.2h0M1130.3 532.9h0M1130.7 534.2h0M1130.1 539.4h0M1131.0 529.5h0M1131.0 535.4h0M1131.6 538.7h0M1132.3 533.7h0M1132.4 538.1h0M1132.5 545.7h0M1134.1 545.8h0M1134.0 543.6h0M1133.0 533.5h0M1134.4 539.8h0M1133.9 541.0h0M1135.7 538.5h0M1134.7 538.0h0M1134.8 548.0h0M1135.4 536.1h0M1135.9 531.1h0M1136.5 533.3h0M1138.4 528.0h0M1137.9 526.7h0M1138.6 526.1h0M1139.1 527.9h0M1138.2 524.9h0M1139.8 520.2h0M1140.1 520.2h0M1140.4 521.8h0M1139.6 517.5h0M1141.1 522.1h0M1140.9 520.9h0M1142.1 523.1h0M1144.0 528.3h0M1143.6 536.3h0M1143.4 536.5h0M1144.0 532.7h0M1145.3 539.6h0M1145.9 536.4h0M1145.6 533.9h0M1146.0 540.6h0M1146.5 541.4h0M1145.0 542.7h0M1146.0 543.5h0M1146.1 546.3h0M1148.2 545.4h0M1149.3 548.7h0M1148.9 549.9h0M1150.4 547.8h0M1151.5 550.9h0M1152.5 542.6h0M1152.1 546.0h0M1152.8 553.4h0M1153.3 554.5h0M1152.6 549.1h0M1154.4 547.0h0M1154.7 541.1h0M1155.1 545.4h0M1154.7 545.0h0M1154.9 537.3h0M1155.1 543.3h0M1155.8 542.6h0M1155.8 542.1h0M1156.6 533.9h0M1157.8 538.5h0M1157.7 531.1h0M1156.6 540.4h0M1157.6 532.5h0M1159.4 526.8h0M1158.2 534.7h0M1159.5 533.3h0M1159.9 526.2h0M1158.9 534.6h0M1160.1 520.0h0M1163.4 524.9h0M1163.3 529.7h0M1163.6 520.3h0M1165.1 536.9h0M1166.8 537.8h0M1170.4 541.2h0M1171.1 536.1h0M1171.1 539.8h0M1170.8 534.4h0M1173.4 531.9h0M1171.6 531.8h0M1173.3 527.0h0M1174.1 535.9h0M1173.3 525.1h0M1175.0 525.1h0M1176.3 523.6h0M1175.2 523.9h0M1176.6 524.0h0M1176.0 523.5h0M1177.9 520.8h0M1178.0 521.3h0M1178.9 524.8h0M1180.2 529.1h0M1182.1 534.7h0M1183.1 531.9h0M1182.8 527.3h0M1182.1 541.8h0M1183.1 538.3h0M1183.6 537.0h0M1182.8 538.3h0M1184.9 536.6h0M1185.3 538.0h0M1186.6 542.8h0M1186.6 545.0h0M1188.5 541.5h0M1190.1 536.0h0M1192.2 535.3h0M1193.1 537.1h0M1192.1 532.9h0M1195.0 533.2h0M1194.3 524.9h0M1193.8 530.7h0M1194.9 530.3h0M1196.5 525.3h0M1197.7 523.3h0M1197.0 530.1h0M1199.9 524.2h0M1200.4 527.2h0M1202.3 524.2h0M1202.1 526.9h0M1203.3 523.4h0M1202.1 519.1h0M1203.6 523.9h0M1202.7 523.5h0M1204.0 527.9h0M1204.6 526.0h0M1204.0 528.8h0M1204.3 533.1h0M1205.2 537.1h0M1205.3 536.8h0M1205.9 537.9h0M1206.2 537.5h0M1205.9 538.5h0M1207.2 540.1h0M1208.2 540.9h0M1208.5 544.6h0M1209.7 547.2h0M1210.9 556.0h0M1211.5 548.1h0M1211.6 547.3h0M1213.4 546.8h0M1213.6 547.8h0M1213.7 548.7h0M1213.6 544.2h0M1215.8 541.4h0M1216.1 548.8h0M1216.4 542.4h0M1217.9 548.4h0M1219.3 548.0h0M1218.7 551.2h0M1220.9 550.6h0M1220.7 546.3h0M1220.9 541.9h0M1221.2 539.8h0M1220.7 540.1h0M1221.9 541.4h0M1221.3 533.9h0M1225.3 537.3h0M1225.2 535.9h0M1225.2 537.7h0M1225.0 533.7h0M1225.7 534.4h0M1226.0 531.2h0M1226.8 529.6h0M1226.9 525.1h0M1225.8 531.2h0M1229.1 529.7h0M1228.8 524.4h0M1228.6 525.6h0M1229.0 522.9h0M1230.4 532.7h0M1231.2 527.5h0M1230.6 536.2h0M1232.7 534.9h0M1232.6 531.7h0M1232.1 540.7h0M1232.4 538.7h0M1232.8 540.1h0M1233.7 542.3h0M1233.3 542.2h0M1233.0 541.6h0M1234.4 544.2h0M1234.3 538.4h0M1236.8 537.2h0M1238.9 531.4h0M1238.6 528.3h0M1240.0 528.4h0M1240.0 528.6h0M1240.7 529.0h0M1240.5 532.4h0M1240.6 521.6h0M1241.2 527.0h0M1241.4 519.0h0M1242.3 522.6h0M1242.6 524.3h0M1242.0 518.4h0M1242.0 518.1h0M1242.3 524.2h0M1243.4 522.7h0M1244.4 522.0h0M1245.3 517.2h0M1246.5 524.4h0M1248.2 513.5h0M1251.5 507.5h0M1252.3 516.3h0M1252.5 514.1h0M1253.1 512.3h0M1255.3 520.7h0M1254.2 517.5h0M1256.0 520.9h0M1255.8 519.9h0M1256.2 518.8h0M1257.0 526.3h0M1257.0 525.3h0M1257.5 524.0h0M1258.3 526.2h0M1258.7 533.8h0M1259.7 529.9h0M1259.4 531.3h0M1259.9 533.8h0M1260.4 533.1h0M1258.9 529.9h0M1261.1 537.3h0M1259.8 538.2h0M1261.2 537.5h0M1261.2 538.7h0M1262.1 534.1h0M1263.3 534.6h0M1261.5 536.9h0M1262.9 530.5h0M1263.1 536.3h0M1263.9 532.4h0M1265.5 529.2h0M1265.4 532.1h0M1265.2 528.5h0M1265.1 522.8h0M1267.5 529.3h0M1265.6 526.2h0M1264.9 526.2h0M1266.0 524.1h0M1266.5 527.7h0M1267.2 523.6h0M1269.0 520.6h0M1268.7 525.6h0M1270.4 529.5h0M1269.8 524.8h0M1269.5 527.0h0M1270.2 528.5h0M1270.5 528.0h0M1272.0 534.3h0M1272.0 537.4h0M1271.7 540.9h0M1272.1 539.5h0M1272.9 541.9h0M1274.4 544.0h0M1273.2 546.3h0M1274.3 542.3h0M1274.9 547.9h0M1274.3 548.3h0M1275.1 547.5h0M1276.5 548.0h0M1276.2 547.5h0M1276.9 548.2h0M1278.1 542.4h0M1278.4 547.5h0M1277.9 544.9h0M1278.2 545.0h0M1279.7 545.4h0M1278.1 545.4h0M1280.4 536.6h0M1281.4 536.8h0M1281.0 531.8h0M1282.1 527.4h0M1281.8 528.3h0M1282.4 539.0h0M1282.9 527.5h0M1282.2 534.5h0M1282.9 538.5h0M1283.0 532.8h0M1283.4 540.8h0M1284.9 544.0h0M1284.6 541.8h0M1286.0 546.9h0M1287.0 542.2h0M1287.6 538.9h0M1287.6 543.6h0M1286.4 540.8h0M1288.2 538.4h0M1287.0 538.9h0M1287.5 550.8h0M1289.2 542.6h0M1288.2 545.8h0M1289.8 542.4h0M1289.8 543.7h0M1291.5 536.1h0M1291.6 533.9h0M1292.5 530.8h0M1292.2 529.5h0M1293.4 530.8h0M1293.8 533.0h0M1292.9 536.8h0M1293.5 533.2h0M1293.8 535.1h0M1293.5 530.0h0M1294.5 527.7h0M1295.9 524.1h0M1295.9 528.5h0M1295.1 521.6h0M1296.8 528.2h0M1297.6 534.5h0M1297.5 530.9h0M1299.2 534.4h0M1303.5 531.1h0" stroke="#000" stroke-width="3.80" stroke-linecap="round" fill="none"/>
<path d="M190.5 570.2h0M329.6 482.2h0M607.3 541.6h0M635.0 542.2h0M842.4 483.8h0M954.0 545.0h0" stroke="#ffa500" stroke-width="3.80" stroke-linecap="round" fill="none"/>
<rect x="105.5" y="499.0" width="1255.5" height="48.9" fill="#ff0000" fill-opacity="0.12"/>
<rect x="162" y="585.0" width="70" height="14.0" fill="#ffa500" fill-opacity="0.1"/>
<rect x="232" y="592.0" width="58" height="16.7" fill="#ffa500" fill-opacity="0.1"/>
<rect x="290" y="502.0" width="721" height="23.0" fill="#ffa500" fill-opacity="0.1"/>
<rect x="1011" y="523.9" width="292" height="16.8" fill="#ffa500" fill-opacity="0.1"/>
<path d="M105.5 523H1361" stroke="#ff0000" stroke-width="2.083" fill="none"/>
<path d="M162.0 666.5V380.5M232.0 666.5V380.5M290.0 666.5V380.5M1011.0 666.5V380.5M1303.0 666.5V380.5" stroke="#800080" stroke-width="2.083" stroke-dasharray="2.083 3.438" fill="none"/>
<path d="M161.5 591.5H232.5M232 600.5H290.5M290 513.3H1012M1011 531.4H1304" stroke="#ffa500" stroke-width="2.778" fill="none"/>
</g>
<rect x="105.5" y="380.5" width="1380.0" height="286.0" fill="none" stroke="#000" stroke-width="1.111"/>
<path d="M162.5 666.5v4.86M411.5 666.5v4.86M659.5 666.5v4.86M908.5 666.5v4.86M1156.5 666.5v4.86M1404.5 666.5v4.86" stroke="#000" stroke-width="1.111" fill="none"/>
<text x="162.50" y="686.70" font-size="14.17" text-anchor="middle" textLength="8.83" lengthAdjust="spacingAndGlyphs">0</text>
<text x="411.50" y="686.70" font-size="14.17" text-anchor="middle" textLength="26.48" lengthAdjust="spacingAndGlyphs">500</text>
<text x="659.50" y="686.70" font-size="14.17" text-anchor="middle" textLength="35.31" lengthAdjust="spacingAndGlyphs">1000</text>
<text x="908.50" y="686.70" font-size="14.17" text-anchor="middle" textLength="35.31" lengthAdjust="spacingAndGlyphs">1500</text>
<text x="1156.50" y="686.70" font-size="14.17" text-anchor="middle" textLength="35.31" lengthAdjust="spacingAndGlyphs">2000</text>
<text x="1404.50" y="686.70" font-size="14.17" text-anchor="middle" textLength="35.31" lengthAdjust="spacingAndGlyphs">2500</text>
<path d="M105.5 646.50h-4.86M105.5 613.50h-4.86M105.5 581.50h-4.86M105.5 548.50h-4.86M105.5 516.50h-4.86M105.5 483.50h-4.86M105.5 450.50h-4.86M105.5 418.50h-4.86M105.5 385.50h-4.86" stroke="#000" stroke-width="1.111" fill="none"/>
<text x="95.60" y="652.00" font-size="14.17" text-anchor="end" textLength="30.89" lengthAdjust="spacingAndGlyphs">6.34</text>
<text x="95.60" y="619.00" font-size="14.17" text-anchor="end" textLength="30.89" lengthAdjust="spacingAndGlyphs">6.36</text>
<text x="95.60" y="587.00" font-size="14.17" text-anchor="end" textLength="30.89" lengthAdjust="spacingAndGlyphs">6.38</text>
<text x="95.60" y="554.00" font-size="14.17" text-anchor="end" textLength="30.89" lengthAdjust="spacingAndGlyphs">6.40</text>
<text x="95.60" y="522.00" font-size="14.17" text-anchor="end" textLength="30.89" lengthAdjust="spacingAndGlyphs">6.42</text>
<text x="95.60" y="489.00" font-size="14.17" text-anchor="end" textLength="30.89" lengthAdjust="spacingAndGlyphs">6.44</text>
<text x="95.60" y="456.00" font-size="14.17" text-anchor="end" textLength="30.89" lengthAdjust="spacingAndGlyphs">6.46</text>
<text x="95.60" y="424.00" font-size="14.17" text-anchor="end" textLength="30.89" lengthAdjust="spacingAndGlyphs">6.48</text>
<text x="95.60" y="391.00" font-size="14.17" text-anchor="end" textLength="30.89" lengthAdjust="spacingAndGlyphs">6.50</text>
<text x="795.50" y="372.30" font-size="17.00" text-anchor="middle" textLength="175.46" lengthAdjust="spacingAndGlyphs">Magnitude Estimates</text>
<text x="196.50" y="657.00" font-size="14.17" text-anchor="middle" textLength="44.14" lengthAdjust="spacingAndGlyphs">52157</text>
<text x="260.50" y="637.00" font-size="14.17" text-anchor="middle" textLength="44.14" lengthAdjust="spacingAndGlyphs">47466</text>
<text x="650.50" y="617.00" font-size="14.17" text-anchor="middle" textLength="44.14" lengthAdjust="spacingAndGlyphs">42646</text>
<text x="1156.50" y="657.00" font-size="14.17" text-anchor="middle" textLength="44.14" lengthAdjust="spacingAndGlyphs">42324</text>
<rect x="1365.40" y="387.60" width="113.10" height="47.70" rx="2.8" fill="#fff" fill-opacity="0.8" stroke="#cccccc" stroke-width="1.111"/>
<path d="M1369 399.4H1400" stroke="#ffa500" stroke-width="2.778"/>
<path d="M1369 421.75H1400" stroke="#ff0000" stroke-width="2.083"/>
<text x="1409.6" y="403.4" font-size="14.17" textLength="30.83" lengthAdjust="spacingAndGlyphs">mag</text>
<text x="1439.6" y="405.5" font-size="11" font-style="italic" textLength="31.6" lengthAdjust="spacingAndGlyphs">OBSID</text>
<text x="1409.60" y="426.50" font-size="14.17" text-anchor="start" textLength="30.83" lengthAdjust="spacingAndGlyphs">mag</text>
<rect x="1408.30" y="634.30" width="70.40" height="25.00" rx="2.8" fill="#fff" fill-opacity="0.8" stroke="#cccccc" stroke-width="1.111"/>
<path d="M1428.3 647.3h0" stroke="#000" stroke-width="3.40" stroke-linecap="round" fill="none"/>
<text x="1453.00" y="650.80" font-size="14.17" text-anchor="start" textLength="20.02" lengthAdjust="spacingAndGlyphs">OK</text>
<path d="M162.0 954.5V725.5M232.0 954.5V725.5M290.0 954.5V725.5M1011.0 954.5V725.5M1303.0 954.5V725.5" stroke="#800080" stroke-width="2.083" stroke-dasharray="2.083 3.438" fill="none"/>
<rect x="161.4" y="761.9" width="29.9" height="3.1" rx="1.5" fill="#000"/>
<rect x="231.3" y="761.9" width="28.3" height="3.1" rx="1.5" fill="#000"/>
<rect x="289.3" y="761.9" width="28.4" height="3.1" rx="1.5" fill="#000"/>
<rect x="1010.7" y="761.9" width="37.2" height="3.1" rx="1.5" fill="#000"/>
<path d="M105.5 763.5H1485.5M105.5 802.5H1485.5M105.5 840.5H1485.5M105.5 878.5H1485.5M105.5 916.5H1485.5" stroke="#b0b0b0" stroke-width="1.111" stroke-dasharray="1.111 1.833" fill="none"/>
<rect x="105.5" y="725.5" width="1380.0" height="229.0" fill="none" stroke="#000" stroke-width="1.111"/>
<path d="M105.5 763.50h-4.86M105.5 802.50h-4.86M105.5 840.50h-4.86M105.5 878.50h-4.86M105.5 916.50h-4.86" stroke="#000" stroke-width="1.111" fill="none"/>
<text x="95.60" y="769.00" font-size="14.17" text-anchor="end" textLength="79.40" lengthAdjust="spacingAndGlyphs">not Kalman</text>
<text x="95.60" y="808.00" font-size="14.17" text-anchor="end" textLength="62.44" lengthAdjust="spacingAndGlyphs">not track</text>
<text x="95.60" y="846.00" font-size="14.17" text-anchor="end" textLength="57.62" lengthAdjust="spacingAndGlyphs">Ion. rad.</text>
<text x="95.60" y="884.00" font-size="14.17" text-anchor="end" textLength="43.79" lengthAdjust="spacingAndGlyphs">dr &gt; 5</text>
<text x="95.60" y="922.00" font-size="14.17" text-anchor="end" textLength="80.81" lengthAdjust="spacingAndGlyphs">OBS not OK</text>
<path d="M162.0 1011.5V954.5M232.0 1011.5V954.5M290.0 1011.5V954.5M1011.0 1011.5V954.5M1303.0 1011.5V954.5" stroke="#800080" stroke-width="2.083" stroke-dasharray="2.083 3.438" fill="none"/>
<g clip-path="url(#c4)">
<rect x="160.4" y="955.1" width="31.4" height="4.8" rx="2.4" fill="#ff0000"/>
<rect x="230.3" y="955.1" width="29.8" height="4.8" rx="2.4" fill="#ff0000"/>
<rect x="288.3" y="955.1" width="29.9" height="4.8" rx="2.4" fill="#ff0000"/>
<rect x="1009.7" y="955.1" width="38.7" height="4.8" rx="2.4" fill="#ff0000"/>
<path d="M189.8 1008.2h0M190.6 1008.3h0M191.4 1008.3h0M192.2 1007.9h0M192.9 1007.3h0M193.7 1007.6h0M194.5 1007.7h0M195.3 1007.8h0M196.1 1007.9h0M196.9 1008.2h0M197.7 1008.1h0M198.4 1008.0h0M199.2 1007.8h0M200.0 1008.2h0M200.8 1008.1h0M201.6 1008.6h0M202.4 1008.2h0M203.2 1008.4h0M203.9 1008.4h0M204.7 1008.4h0M205.5 1008.5h0M206.3 1008.7h0M207.1 1009.0h0M207.9 1008.4h0M208.7 1008.2h0M209.4 1008.1h0M210.2 1007.5h0M211.0 1007.5h0M211.8 1007.4h0M212.6 1007.5h0M213.4 1007.2h0M214.1 1007.1h0M214.9 1007.1h0M215.7 1007.3h0M216.5 1007.3h0M217.3 1007.1h0M218.1 1007.7h0M218.9 1007.8h0M219.6 1007.9h0M220.4 1008.0h0M221.2 1008.5h0M222.0 1008.2h0M222.8 1008.3h0M223.6 1008.3h0M224.4 1008.4h0M225.1 1008.7h0M225.9 1008.7h0M226.7 1009.1h0M227.5 1009.2h0M228.3 1009.0h0M229.1 1008.8h0M229.9 1008.7h0M230.6 1008.6h0M231.4 1007.9h0M232.2 1007.7h0M233.0 1008.1h0M258.0 1008.0h0M258.8 1008.1h0M259.6 1008.1h0M260.4 1008.2h0M261.2 1008.4h0M262.0 1007.9h0M262.8 1007.8h0M263.6 1007.9h0M264.4 1008.0h0M265.2 1008.0h0M266.1 1007.6h0M266.9 1007.5h0M267.7 1007.2h0M268.5 1008.2h0M269.3 1008.0h0M270.1 1007.7h0M270.9 1007.2h0M271.7 1007.2h0M272.5 1007.8h0M273.3 1007.6h0M274.1 1007.8h0M274.9 1008.3h0M275.7 1008.4h0M276.5 1008.0h0M277.3 1007.6h0M278.1 1007.5h0M278.9 1007.8h0M279.7 1007.1h0M280.5 1007.5h0M281.3 1007.6h0M282.1 1008.0h0M283.0 1007.6h0M283.8 1007.5h0M284.6 1007.3h0M285.4 1007.3h0M286.2 1007.4h0M287.0 1007.4h0M287.8 1008.0h0M288.6 1007.7h0M289.4 1007.5h0M290.2 1007.6h0M316.5 1003.2h0M317.3 1003.2h0M318.0 1002.9h0M318.8 1002.9h0M319.6 1003.1h0M320.4 1003.6h0M321.1 1004.5h0M321.9 1005.2h0M322.7 1005.6h0M323.4 1006.1h0M324.2 1006.5h0M325.0 1006.4h0M325.7 1006.5h0M326.5 1006.7h0M327.3 1006.7h0M328.1 1006.9h0M328.8 1007.2h0M329.6 1007.3h0M330.4 1007.9h0M331.1 1007.6h0M331.9 1007.9h0M332.7 1007.7h0M333.5 1007.7h0M334.2 1007.4h0M335.0 1007.4h0M335.8 1007.7h0M336.5 1007.4h0M337.3 1007.4h0M338.1 1007.5h0M338.9 1007.5h0M339.6 1007.2h0M340.4 1007.1h0M341.2 1007.1h0M341.9 1007.6h0M342.7 1007.8h0M343.5 1007.7h0M344.2 1007.2h0M345.0 1007.2h0M345.8 1007.3h0M346.6 1007.1h0M347.3 1007.2h0M348.1 1007.3h0M348.9 1007.3h0M349.6 1007.8h0M350.4 1007.5h0M351.2 1007.4h0M352.0 1007.6h0M352.7 1007.9h0M353.5 1007.8h0M354.3 1007.4h0M355.0 1007.6h0M355.8 1007.9h0M356.6 1007.8h0M357.4 1008.2h0M358.1 1008.8h0M358.9 1008.7h0M359.7 1008.8h0M360.4 1008.7h0M361.2 1008.7h0M362.0 1008.5h0M362.7 1008.4h0M363.5 1008.5h0M364.3 1008.5h0M365.1 1008.2h0M365.8 1007.9h0M366.6 1007.6h0M367.4 1007.4h0M368.1 1008.4h0M368.9 1008.6h0M369.7 1008.5h0M370.5 1008.3h0M371.2 1008.7h0M372.0 1008.2h0M372.8 1008.0h0M373.5 1008.1h0M374.3 1008.0h0M375.1 1008.1h0M375.9 1008.2h0M376.6 1008.0h0M377.4 1008.1h0M378.2 1008.4h0M378.9 1008.5h0M379.7 1008.4h0M380.5 1008.6h0M381.2 1008.1h0M382.0 1008.4h0M382.8 1007.8h0M383.6 1007.5h0M384.3 1007.8h0M385.1 1007.8h0M385.9 1007.4h0M386.6 1007.5h0M387.4 1007.9h0M388.2 1007.8h0M389.0 1007.3h0M389.7 1007.7h0M390.5 1007.6h0M391.3 1007.6h0M392.0 1007.7h0M392.8 1007.8h0M393.6 1007.9h0M394.4 1007.5h0M395.1 1007.4h0M395.9 1007.7h0M396.7 1007.3h0M397.4 1007.7h0M398.2 1007.5h0M399.0 1007.5h0M399.7 1007.2h0M400.5 1007.2h0M401.3 1007.0h0M402.1 1007.1h0M402.8 1006.9h0M403.6 1006.9h0M404.4 1006.5h0M405.1 1006.8h0M405.9 1006.6h0M406.7 1006.7h0M407.5 1006.8h0M408.2 1007.1h0M409.0 1007.0h0M409.8 1007.5h0M410.5 1007.9h0M411.3 1007.7h0M412.1 1008.1h0M412.9 1007.7h0M413.6 1007.8h0M414.4 1007.7h0M415.2 1007.7h0M415.9 1007.6h0M416.7 1007.7h0M417.5 1007.8h0M418.2 1007.8h0M419.0 1007.5h0M419.8 1007.2h0M420.6 1006.9h0M421.3 1006.9h0M422.1 1007.1h0M422.9 1007.7h0M423.6 1007.5h0M424.4 1007.3h0M425.2 1007.5h0M426.0 1007.3h0M426.7 1007.0h0M427.5 1007.1h0M428.3 1006.9h0M429.0 1006.9h0M429.8 1007.5h0M430.6 1007.7h0M431.4 1007.8h0M432.1 1007.6h0M432.9 1007.9h0M433.7 1008.0h0M434.4 1008.2h0M435.2 1008.1h0M436.0 1008.0h0M436.7 1007.7h0M437.5 1007.5h0M438.3 1007.5h0M439.1 1007.4h0M439.8 1007.5h0M440.6 1007.5h0M441.4 1007.1h0M442.1 1007.8h0M442.9 1007.9h0M443.7 1007.8h0M444.5 1007.4h0M445.2 1007.8h0M446.0 1007.7h0M446.8 1007.4h0M447.5 1007.6h0M448.3 1008.1h0M449.1 1008.2h0M449.9 1008.4h0M450.6 1008.1h0M451.4 1008.3h0M452.2 1007.7h0M452.9 1007.7h0M453.7 1007.9h0M454.5 1008.0h0M455.2 1008.3h0M456.0 1008.1h0M456.8 1007.6h0M457.6 1007.7h0M458.3 1007.4h0M459.1 1007.7h0M459.9 1007.6h0M460.6 1007.0h0M461.4 1007.5h0M462.2 1007.2h0M463.0 1006.9h0M463.7 1007.6h0M464.5 1008.0h0M465.3 1008.2h0M466.0 1007.9h0M466.8 1008.0h0M467.6 1008.0h0M468.3 1007.7h0M469.1 1007.7h0M469.9 1007.6h0M470.7 1007.7h0M471.4 1007.4h0M472.2 1007.7h0M473.0 1007.2h0M473.7 1007.4h0M474.5 1007.6h0M475.3 1007.5h0M476.1 1007.4h0M476.8 1008.0h0M477.6 1007.9h0M478.4 1008.2h0M479.1 1008.4h0M479.9 1008.1h0M480.7 1008.2h0M481.5 1008.1h0M482.2 1008.1h0M483.0 1007.5h0M483.8 1007.6h0M484.5 1007.9h0M485.3 1008.2h0M486.1 1008.4h0M486.8 1008.2h0M487.6 1008.2h0M488.4 1007.8h0M489.2 1007.8h0M489.9 1007.7h0M490.7 1007.6h0M491.5 1007.7h0M492.2 1007.6h0M493.0 1007.4h0M493.8 1007.2h0M494.6 1007.5h0M495.3 1008.0h0M496.1 1008.2h0M496.9 1008.0h0M497.6 1008.7h0M498.4 1008.6h0M499.2 1008.4h0M500.0 1008.4h0M500.7 1008.6h0M501.5 1008.0h0M502.3 1007.6h0M503.0 1007.7h0M503.8 1007.3h0M504.6 1007.0h0M505.3 1007.4h0M506.1 1006.7h0M506.9 1007.2h0M507.7 1007.3h0M508.4 1007.7h0M509.2 1007.7h0M510.0 1008.0h0M510.7 1008.0h0M511.5 1007.7h0M512.3 1007.6h0M513.1 1007.7h0M513.8 1007.3h0M514.6 1007.6h0M515.4 1007.3h0M516.1 1007.5h0M516.9 1007.5h0M517.7 1007.5h0M518.5 1007.5h0M519.2 1007.6h0M520.0 1007.8h0M520.8 1007.9h0M521.5 1007.8h0M522.3 1007.8h0M523.1 1008.1h0M523.8 1008.3h0M524.6 1008.4h0M525.4 1008.3h0M526.2 1008.2h0M526.9 1008.1h0M527.7 1008.2h0M528.5 1008.1h0M529.2 1008.5h0M530.0 1009.1h0M530.8 1009.0h0M531.6 1009.2h0M532.3 1009.3h0M533.1 1009.4h0M533.9 1009.0h0M534.6 1009.1h0M535.4 1008.8h0M536.2 1008.8h0M537.0 1009.0h0M537.7 1009.2h0M538.5 1008.9h0M539.3 1008.6h0M540.0 1008.3h0M540.8 1007.7h0M541.6 1007.6h0M542.3 1007.6h0M543.1 1007.7h0M543.9 1007.6h0M544.7 1007.8h0M545.4 1008.0h0M546.2 1007.4h0M547.0 1008.0h0M547.7 1007.9h0M548.5 1007.8h0M549.3 1007.7h0M550.1 1008.0h0M550.8 1008.0h0M551.6 1008.1h0M552.4 1008.4h0M553.1 1008.3h0M553.9 1008.3h0M554.7 1008.4h0M555.5 1008.1h0M556.2 1008.4h0M557.0 1008.2h0M557.8 1008.3h0M558.5 1008.1h0M559.3 1008.0h0M560.1 1007.9h0M560.8 1008.2h0M561.6 1008.4h0M562.4 1008.5h0M563.2 1008.4h0M563.9 1008.1h0M564.7 1007.7h0M565.5 1007.9h0M566.2 1007.9h0M567.0 1008.3h0M567.8 1008.9h0M568.6 1008.9h0M569.3 1009.0h0M570.1 1009.2h0M570.9 1009.5h0M571.6 1009.1h0M572.4 1009.1h0M573.2 1009.4h0M574.0 1008.5h0M574.7 1008.4h0M575.5 1008.4h0M576.3 1008.1h0M577.0 1008.3h0M577.8 1007.8h0M578.6 1008.2h0M579.3 1008.5h0M580.1 1008.5h0M580.9 1008.6h0M581.7 1008.1h0M582.4 1008.5h0M583.2 1008.6h0M584.0 1008.4h0M584.7 1008.2h0M585.5 1007.9h0M586.3 1007.8h0M587.1 1007.2h0M587.8 1007.4h0M588.6 1007.4h0M589.4 1007.3h0M590.1 1007.5h0M590.9 1007.6h0M591.7 1007.8h0M592.5 1008.0h0M593.2 1008.3h0M594.0 1008.4h0M594.8 1008.7h0M595.5 1008.5h0M596.3 1008.8h0M597.1 1008.1h0M597.8 1007.6h0M598.6 1007.4h0M599.4 1007.5h0M600.2 1007.7h0M600.9 1007.4h0M601.7 1007.4h0M602.5 1007.4h0M603.2 1007.6h0M604.0 1007.4h0M604.8 1007.7h0M605.6 1007.7h0M606.3 1008.2h0M607.1 1008.3h0M607.9 1008.1h0M608.6 1008.2h0M609.4 1008.3h0M610.2 1008.0h0M610.9 1008.0h0M611.7 1007.7h0M612.5 1008.4h0M613.3 1008.2h0M614.0 1008.0h0M614.8 1008.4h0M615.6 1008.7h0M616.3 1008.3h0M617.1 1008.6h0M617.9 1008.6h0M618.7 1008.4h0M619.4 1008.4h0M620.2 1008.2h0M621.0 1008.4h0M621.7 1008.2h0M622.5 1007.9h0M623.3 1007.8h0M624.1 1008.4h0M624.8 1008.2h0M625.6 1008.1h0M626.4 1008.3h0M627.1 1007.9h0M627.9 1008.4h0M628.7 1007.8h0M629.4 1008.0h0M630.2 1007.6h0M631.0 1007.6h0M631.8 1008.0h0M632.5 1008.0h0M633.3 1007.9h0M634.1 1007.8h0M634.8 1007.5h0M635.6 1007.8h0M636.4 1007.7h0M637.2 1007.5h0M637.9 1007.7h0M638.7 1008.0h0M639.5 1008.2h0M640.2 1008.0h0M641.0 1007.7h0M641.8 1008.0h0M642.6 1008.4h0M643.3 1008.0h0M644.1 1008.4h0M644.9 1008.3h0M645.6 1008.4h0M646.4 1008.8h0M647.2 1008.7h0M647.9 1008.6h0M648.7 1008.1h0M649.5 1007.5h0M650.3 1007.6h0M651.0 1007.4h0M651.8 1007.2h0M652.6 1007.4h0M653.3 1007.7h0M654.1 1007.3h0M654.9 1007.5h0M655.7 1007.6h0M656.4 1007.7h0M657.2 1007.8h0M658.0 1008.0h0M658.7 1007.8h0M659.5 1007.4h0M660.3 1007.6h0M661.1 1008.0h0M661.8 1008.0h0M662.6 1008.4h0M663.4 1008.5h0M664.1 1008.1h0M664.9 1007.4h0M665.7 1007.4h0M666.4 1007.8h0M667.2 1007.6h0M668.0 1008.3h0M668.8 1008.4h0M669.5 1007.9h0M670.3 1007.7h0M671.1 1008.1h0M671.8 1008.6h0M672.6 1008.2h0M673.4 1008.2h0M674.2 1008.3h0M674.9 1008.2h0M675.7 1008.3h0M676.5 1008.8h0M677.2 1008.4h0M678.0 1008.5h0M678.8 1008.7h0M679.6 1009.0h0M680.3 1008.7h0M681.1 1008.8h0M681.9 1008.5h0M682.6 1008.5h0M683.4 1008.1h0M684.2 1008.2h0M684.9 1008.3h0M685.7 1008.8h0M686.5 1009.0h0M687.3 1008.6h0M688.0 1007.7h0M688.8 1008.1h0M689.6 1008.3h0M690.3 1008.2h0M691.1 1008.0h0M691.9 1008.2h0M692.7 1008.1h0M693.4 1008.5h0M694.2 1008.5h0M695.0 1008.2h0M695.7 1007.7h0M696.5 1007.8h0M697.3 1007.9h0M698.1 1007.8h0M698.8 1007.5h0M699.6 1007.4h0M700.4 1007.7h0M701.1 1007.6h0M701.9 1007.4h0M702.7 1007.7h0M703.4 1008.1h0M704.2 1007.9h0M705.0 1007.8h0M705.8 1007.6h0M706.5 1007.6h0M707.3 1007.8h0M708.1 1008.0h0M708.8 1008.2h0M709.6 1008.5h0M710.4 1008.5h0M711.2 1008.6h0M711.9 1008.2h0M712.7 1008.5h0M713.5 1008.4h0M714.2 1008.5h0M715.0 1008.0h0M715.8 1007.9h0M716.6 1008.0h0M717.3 1007.8h0M718.1 1007.8h0M718.9 1007.9h0M719.6 1007.5h0M720.4 1007.4h0M721.2 1007.0h0M721.9 1006.8h0M722.7 1006.8h0M723.5 1006.9h0M724.3 1007.4h0M725.0 1007.2h0M725.8 1007.3h0M726.6 1007.2h0M727.3 1007.3h0M728.1 1007.6h0M728.9 1007.9h0M729.7 1007.7h0M730.4 1007.4h0M731.2 1007.6h0M732.0 1007.5h0M732.7 1007.2h0M733.5 1007.5h0M734.3 1007.7h0M735.0 1008.0h0M735.8 1007.7h0M736.6 1007.6h0M737.4 1007.8h0M738.1 1008.3h0M738.9 1008.3h0M739.7 1007.9h0M740.4 1008.0h0M741.2 1008.1h0M742.0 1007.9h0M742.8 1008.3h0M743.5 1008.2h0M744.3 1008.0h0M745.1 1008.2h0M745.8 1008.4h0M746.6 1008.2h0M747.4 1008.2h0M748.2 1008.2h0M748.9 1008.1h0M749.7 1008.0h0M750.5 1008.3h0M751.2 1008.4h0M752.0 1008.2h0M752.8 1007.8h0M753.5 1007.5h0M754.3 1007.8h0M755.1 1007.5h0M755.9 1007.4h0M756.6 1007.4h0M757.4 1007.4h0M758.2 1007.2h0M758.9 1006.8h0M759.7 1007.3h0M760.5 1007.2h0M761.3 1007.4h0M762.0 1007.5h0M762.8 1007.2h0M763.6 1007.1h0M764.3 1007.5h0M765.1 1007.6h0M765.9 1007.6h0M766.7 1008.0h0M767.4 1007.8h0M768.2 1007.8h0M769.0 1007.8h0M769.7 1007.7h0M770.5 1007.2h0M771.3 1007.3h0M772.0 1007.5h0M772.8 1007.1h0M773.6 1007.4h0M774.4 1007.6h0M775.1 1008.0h0M775.9 1007.7h0M776.7 1007.6h0M777.4 1007.6h0M778.2 1007.6h0M779.0 1007.6h0M779.8 1007.9h0M780.5 1008.1h0M781.3 1008.0h0M782.1 1007.9h0M782.8 1007.5h0M783.6 1007.7h0M784.4 1007.9h0M785.2 1008.2h0M785.9 1007.8h0M786.7 1008.1h0M787.5 1007.9h0M788.2 1007.5h0M789.0 1007.6h0M789.8 1007.4h0M790.5 1008.1h0M791.3 1008.2h0M792.1 1008.6h0M792.9 1008.4h0M793.6 1008.3h0M794.4 1008.5h0M795.2 1008.1h0M795.9 1008.0h0M796.7 1008.1h0M797.5 1008.2h0M798.3 1008.6h0M799.0 1008.5h0M799.8 1007.8h0M800.6 1008.0h0M801.3 1007.9h0M802.1 1008.1h0M802.9 1007.8h0M803.7 1007.7h0M804.4 1007.8h0M805.2 1008.3h0M806.0 1008.4h0M806.7 1008.0h0M807.5 1008.0h0M808.3 1007.8h0M809.0 1008.0h0M809.8 1008.5h0M810.6 1008.3h0M811.4 1008.1h0M812.1 1008.2h0M812.9 1008.3h0M813.7 1008.1h0M814.4 1008.3h0M815.2 1008.1h0M816.0 1008.1h0M816.8 1008.7h0M817.5 1008.7h0M818.3 1008.7h0M819.1 1008.8h0M819.8 1008.6h0M820.6 1008.6h0M821.4 1008.3h0M822.2 1008.0h0M822.9 1007.9h0M823.7 1008.3h0M824.5 1008.5h0M825.2 1008.1h0M826.0 1008.2h0M826.8 1008.3h0M827.5 1008.3h0M828.3 1008.1h0M829.1 1008.0h0M829.9 1007.8h0M830.6 1008.0h0M831.4 1008.1h0M832.2 1008.1h0M832.9 1008.1h0M833.7 1008.6h0M834.5 1008.6h0M835.3 1008.8h0M836.0 1008.3h0M836.8 1007.8h0M837.6 1007.4h0M838.3 1007.2h0M839.1 1007.5h0M839.9 1007.3h0M840.7 1007.4h0M841.4 1007.3h0M842.2 1007.6h0M843.0 1007.8h0M843.7 1007.7h0M844.5 1007.3h0M845.3 1007.4h0M846.0 1006.8h0M846.8 1006.2h0M847.6 1006.8h0M848.4 1007.0h0M849.1 1007.4h0M849.9 1007.5h0M850.7 1007.7h0M851.4 1007.7h0M852.2 1007.5h0M853.0 1007.3h0M853.8 1007.3h0M854.5 1007.4h0M855.3 1007.4h0M856.1 1007.5h0M856.8 1007.4h0M857.6 1007.4h0M858.4 1007.4h0M859.2 1007.8h0M859.9 1007.6h0M860.7 1007.2h0M861.5 1007.2h0M862.2 1007.7h0M863.0 1007.4h0M863.8 1007.5h0M864.5 1008.4h0M865.3 1008.4h0M866.1 1008.1h0M866.9 1008.0h0M867.6 1007.6h0M868.4 1007.5h0M869.2 1007.5h0M869.9 1008.1h0M870.7 1008.4h0M871.5 1008.2h0M872.3 1008.0h0M873.0 1008.3h0M873.8 1008.4h0M874.6 1008.2h0M875.3 1008.6h0M876.1 1009.1h0M876.9 1008.9h0M877.6 1008.7h0M878.4 1008.7h0M879.2 1009.2h0M880.0 1009.0h0M880.7 1009.2h0M881.5 1008.8h0M882.3 1008.7h0M883.0 1008.5h0M883.8 1008.2h0M884.6 1008.3h0M885.4 1008.0h0M886.1 1007.7h0M886.9 1007.6h0M887.7 1007.3h0M888.4 1007.5h0M889.2 1007.3h0M890.0 1007.3h0M890.8 1007.7h0M891.5 1007.7h0M892.3 1007.9h0M893.1 1008.0h0M893.8 1008.0h0M894.6 1007.7h0M895.4 1007.8h0M896.1 1007.8h0M896.9 1008.2h0M897.7 1008.1h0M898.5 1007.8h0M899.2 1007.5h0M900.0 1007.5h0M900.8 1007.7h0M901.5 1008.0h0M902.3 1008.0h0M903.1 1008.3h0M903.9 1008.6h0M904.6 1008.2h0M905.4 1008.4h0M906.2 1007.8h0M906.9 1008.2h0M907.7 1008.1h0M908.5 1008.3h0M909.3 1008.2h0M910.0 1008.5h0M910.8 1008.4h0M911.6 1008.3h0M912.3 1008.4h0M913.1 1008.2h0M913.9 1007.7h0M914.6 1007.9h0M915.4 1007.6h0M916.2 1007.6h0M917.0 1007.7h0M917.7 1007.1h0M918.5 1007.8h0M919.3 1008.0h0M920.0 1008.5h0M920.8 1008.5h0M921.6 1008.4h0M922.4 1007.3h0M923.1 1007.3h0M923.9 1006.9h0M924.7 1006.7h0M925.4 1007.0h0M926.2 1007.0h0M927.0 1006.7h0M927.8 1006.8h0M928.5 1006.9h0M929.3 1006.9h0M930.1 1007.5h0M930.8 1007.7h0M931.6 1007.7h0M932.4 1007.5h0M933.1 1007.8h0M933.9 1007.9h0M934.7 1008.0h0M935.5 1008.0h0M936.2 1007.8h0M937.0 1007.8h0M937.8 1007.7h0M938.5 1008.1h0M939.3 1008.4h0M940.1 1008.2h0M940.9 1008.6h0M941.6 1008.4h0M942.4 1008.5h0M943.2 1008.6h0M943.9 1008.3h0M944.7 1008.5h0M945.5 1008.6h0M946.3 1008.7h0M947.0 1008.5h0M947.8 1007.7h0M948.6 1008.3h0M949.3 1008.2h0M950.1 1008.2h0M950.9 1007.9h0M951.6 1008.0h0M952.4 1008.7h0M953.2 1008.2h0M954.0 1008.4h0M954.7 1008.4h0M955.5 1008.7h0M956.3 1008.9h0M957.0 1008.8h0M957.8 1008.5h0M958.6 1008.1h0M959.4 1008.3h0M960.1 1008.1h0M960.9 1008.1h0M961.7 1008.1h0M962.4 1008.0h0M963.2 1007.8h0M964.0 1008.0h0M964.8 1008.0h0M965.5 1007.9h0M966.3 1007.9h0M967.1 1008.1h0M967.8 1007.6h0M968.6 1007.8h0M969.4 1007.6h0M970.1 1007.6h0M970.9 1007.3h0M971.7 1008.0h0M972.5 1007.4h0M973.2 1007.5h0M974.0 1007.9h0M974.8 1007.9h0M975.5 1007.3h0M976.3 1007.2h0M977.1 1007.7h0M977.9 1007.8h0M978.6 1007.5h0M979.4 1007.9h0M980.2 1008.0h0M980.9 1008.0h0M981.7 1007.4h0M982.5 1007.6h0M983.3 1007.3h0M984.0 1007.5h0M984.8 1007.8h0M985.6 1007.5h0M986.3 1007.4h0M987.1 1008.0h0M987.9 1007.8h0M988.6 1007.6h0M989.4 1007.8h0M990.2 1007.8h0M991.0 1007.7h0M991.7 1007.9h0M992.5 1008.0h0M993.3 1008.2h0M994.0 1008.2h0M994.8 1008.5h0M995.6 1008.5h0M996.4 1008.8h0M997.1 1008.6h0M997.9 1008.5h0M998.7 1008.7h0M999.4 1008.4h0M1000.2 1007.8h0M1001.0 1007.4h0M1001.8 1007.9h0M1002.5 1007.5h0M1003.3 1007.5h0M1004.1 1007.6h0M1004.8 1007.8h0M1005.6 1007.8h0M1006.4 1007.4h0M1007.1 1007.4h0M1007.9 1007.6h0M1008.7 1007.8h0M1009.5 1007.9h0M1010.2 1007.8h0M1011.0 1007.3h0M1046.8 1008.1h0M1047.6 1008.1h0M1048.3 1008.2h0M1049.1 1008.3h0M1049.9 1008.2h0M1050.7 1008.0h0M1051.4 1008.4h0M1052.2 1008.6h0M1053.0 1008.1h0M1053.7 1008.0h0M1054.5 1007.9h0M1055.3 1008.0h0M1056.1 1008.1h0M1056.8 1007.9h0M1057.6 1008.1h0M1058.4 1008.3h0M1059.1 1008.3h0M1059.9 1008.0h0M1060.7 1008.2h0M1061.5 1007.9h0M1062.2 1007.7h0M1063.0 1008.0h0M1063.8 1008.0h0M1064.5 1008.0h0M1065.3 1007.8h0M1066.1 1007.6h0M1066.9 1008.0h0M1067.6 1008.4h0M1068.4 1008.0h0M1069.2 1008.0h0M1070.0 1007.8h0M1070.7 1007.8h0M1071.5 1007.4h0M1072.3 1007.8h0M1073.0 1007.5h0M1073.8 1007.8h0M1074.6 1007.6h0M1075.4 1007.3h0M1076.1 1007.7h0M1076.9 1007.7h0M1077.7 1007.8h0M1078.4 1007.9h0M1079.2 1007.9h0M1080.0 1008.2h0M1080.8 1008.4h0M1081.5 1008.1h0M1082.3 1007.9h0M1083.1 1008.0h0M1083.8 1008.4h0M1084.6 1007.7h0M1085.4 1007.4h0M1086.2 1007.4h0M1086.9 1007.8h0M1087.7 1007.9h0M1088.5 1007.9h0M1089.2 1008.1h0M1090.0 1007.7h0M1090.8 1007.7h0M1091.6 1007.6h0M1092.3 1007.9h0M1093.1 1008.2h0M1093.9 1008.3h0M1094.6 1008.2h0M1095.4 1008.2h0M1096.2 1008.3h0M1097.0 1008.1h0M1097.7 1008.0h0M1098.5 1007.6h0M1099.3 1007.7h0M1100.0 1008.0h0M1100.8 1008.0h0M1101.6 1007.6h0M1102.4 1007.8h0M1103.1 1007.8h0M1103.9 1007.9h0M1104.7 1007.8h0M1105.4 1007.7h0M1106.2 1008.0h0M1107.0 1008.0h0M1107.8 1007.8h0M1108.5 1007.5h0M1109.3 1007.3h0M1110.1 1007.1h0M1110.8 1007.4h0M1111.6 1007.5h0M1112.4 1007.3h0M1113.2 1007.7h0M1113.9 1007.8h0M1114.7 1008.3h0M1115.5 1008.3h0M1116.3 1008.5h0M1117.0 1008.7h0M1117.8 1008.4h0M1118.6 1008.5h0M1119.3 1008.5h0M1120.1 1008.5h0M1120.9 1008.6h0M1121.7 1008.1h0M1122.4 1008.2h0M1123.2 1008.1h0M1124.0 1008.4h0M1124.7 1008.5h0M1125.5 1008.5h0M1126.3 1008.5h0M1127.1 1008.6h0M1127.8 1008.4h0M1128.6 1007.9h0M1129.4 1007.9h0M1130.1 1008.0h0M1130.9 1008.1h0M1131.7 1007.4h0M1132.5 1007.0h0M1133.2 1007.0h0M1134.0 1006.9h0M1134.8 1007.3h0M1135.5 1007.4h0M1136.3 1007.4h0M1137.1 1007.5h0M1137.9 1007.8h0M1138.6 1008.0h0M1139.4 1007.8h0M1140.2 1007.8h0M1140.9 1008.3h0M1141.7 1008.3h0M1142.5 1007.9h0M1143.3 1008.0h0M1144.0 1008.0h0M1144.8 1008.3h0M1145.6 1008.0h0M1146.3 1008.3h0M1147.1 1008.6h0M1147.9 1008.6h0M1148.7 1007.8h0M1149.4 1008.0h0M1150.2 1008.3h0M1151.0 1008.1h0M1151.7 1008.0h0M1152.5 1007.6h0M1153.3 1008.0h0M1154.1 1008.4h0M1154.8 1008.4h0M1155.6 1008.2h0M1156.4 1008.1h0M1157.2 1007.8h0M1157.9 1008.2h0M1158.7 1008.4h0M1159.5 1008.3h0M1160.2 1008.0h0M1161.0 1007.9h0M1161.8 1008.0h0M1162.6 1008.3h0M1163.3 1008.0h0M1164.1 1007.7h0M1164.9 1007.0h0M1165.6 1007.2h0M1166.4 1006.8h0M1167.2 1007.3h0M1168.0 1007.6h0M1168.7 1007.8h0M1169.5 1007.9h0M1170.3 1008.2h0M1171.0 1008.3h0M1171.8 1008.2h0M1172.6 1008.3h0M1173.4 1008.1h0M1174.1 1008.1h0M1174.9 1008.0h0M1175.7 1007.6h0M1176.4 1007.6h0M1177.2 1007.6h0M1178.0 1007.6h0M1178.8 1007.7h0M1179.5 1007.5h0M1180.3 1007.8h0M1181.1 1007.5h0M1181.8 1007.1h0M1182.6 1006.9h0M1183.4 1007.2h0M1184.2 1007.7h0M1184.9 1007.9h0M1185.7 1007.8h0M1186.5 1007.6h0M1187.2 1007.7h0M1188.0 1007.8h0M1188.8 1007.4h0M1189.6 1007.7h0M1190.3 1007.4h0M1191.1 1007.2h0M1191.9 1007.7h0M1192.6 1007.7h0M1193.4 1007.8h0M1194.2 1008.1h0M1195.0 1008.6h0M1195.7 1008.9h0M1196.5 1008.6h0M1197.3 1008.6h0M1198.1 1008.4h0M1198.8 1008.6h0M1199.6 1008.6h0M1200.4 1008.6h0M1201.1 1008.9h0M1201.9 1009.2h0M1202.7 1008.9h0M1203.5 1008.7h0M1204.2 1008.8h0M1205.0 1008.7h0M1205.8 1008.4h0M1206.5 1007.8h0M1207.3 1008.1h0M1208.1 1007.9h0M1208.9 1007.3h0M1209.6 1007.4h0M1210.4 1007.1h0M1211.2 1007.9h0M1211.9 1007.5h0M1212.7 1007.6h0M1213.5 1008.1h0M1214.3 1007.9h0M1215.0 1007.6h0M1215.8 1007.3h0M1216.6 1007.1h0M1217.3 1007.2h0M1218.1 1007.5h0M1218.9 1007.7h0M1219.7 1007.7h0M1220.4 1007.6h0M1221.2 1007.8h0M1222.0 1007.8h0M1222.7 1007.6h0M1223.5 1007.5h0M1224.3 1007.0h0M1225.1 1006.5h0M1225.8 1007.0h0M1226.6 1007.3h0M1227.4 1007.8h0M1228.1 1008.1h0M1228.9 1007.9h0M1229.7 1008.2h0M1230.5 1008.4h0M1231.2 1008.4h0M1232.0 1008.1h0M1232.8 1008.2h0M1233.5 1008.2h0M1234.3 1007.9h0M1235.1 1007.8h0M1235.9 1007.7h0M1236.6 1007.5h0M1237.4 1007.8h0M1238.2 1007.8h0M1239.0 1007.9h0M1239.7 1007.7h0M1240.5 1007.5h0M1241.3 1007.8h0M1242.0 1007.5h0M1242.8 1007.8h0M1243.6 1007.5h0M1244.4 1007.5h0M1245.1 1007.8h0M1245.9 1008.1h0M1246.7 1008.2h0M1247.4 1008.1h0M1248.2 1008.3h0M1249.0 1008.1h0M1249.8 1008.4h0M1250.5 1008.4h0M1251.3 1008.3h0M1252.1 1008.7h0M1252.8 1008.5h0M1253.6 1008.8h0M1254.4 1009.3h0M1255.2 1009.3h0M1255.9 1009.1h0M1256.7 1008.7h0M1257.5 1008.7h0M1258.2 1008.2h0M1259.0 1007.7h0M1259.8 1007.5h0M1260.6 1007.2h0M1261.3 1007.2h0M1262.1 1007.4h0M1262.9 1007.3h0M1263.6 1007.2h0M1264.4 1007.2h0M1265.2 1007.4h0M1266.0 1007.9h0M1266.7 1007.7h0M1267.5 1007.6h0M1268.3 1008.0h0M1269.0 1008.0h0M1269.8 1007.8h0M1270.6 1007.8h0M1271.4 1007.6h0M1272.1 1007.4h0M1272.9 1007.9h0M1273.7 1008.0h0M1274.4 1007.8h0M1275.2 1007.6h0M1276.0 1007.3h0M1276.8 1007.9h0M1277.5 1007.9h0M1278.3 1007.7h0M1279.1 1007.4h0M1279.8 1007.0h0M1280.6 1007.4h0M1281.4 1007.6h0M1282.2 1007.9h0M1282.9 1007.7h0M1283.7 1008.1h0M1284.5 1007.7h0M1285.3 1007.5h0M1286.0 1007.4h0M1286.8 1008.1h0M1287.6 1008.2h0M1288.3 1008.0h0M1289.1 1008.4h0M1289.9 1008.4h0M1290.7 1008.3h0M1291.4 1008.0h0M1292.2 1007.9h0M1293.0 1007.8h0M1293.7 1008.0h0M1294.5 1008.0h0M1295.3 1008.0h0M1296.1 1007.8h0M1296.8 1007.8h0M1297.6 1007.6h0M1298.4 1008.1h0M1299.1 1007.7h0M1299.9 1007.8h0M1300.7 1007.5h0M1301.5 1007.5h0M1302.2 1007.4h0M1303.0 1007.0h0" stroke="#000" stroke-width="3.60" stroke-linecap="round" fill="none"/>
</g>
<path d="M105.5 1009.50H1485.5M105.5 983.50H1485.5M105.5 957.50H1485.5" stroke="#b0b0b0" stroke-width="1.111" stroke-dasharray="1.111 1.833" fill="none"/>
<rect x="105.5" y="954.5" width="1380.0" height="57.0" fill="none" stroke="#000" stroke-width="1.111"/>
<path d="M105.5 1009.50h-4.86M105.5 983.50h-4.86M105.5 957.50h-4.86" stroke="#000" stroke-width="1.111" fill="none"/>
<path d="M105.5 996.50h-2.78M105.5 970.50h-2.78" stroke="#000" stroke-width="0.833" fill="none"/>
<text x="95.60" y="1014.50" font-size="14.17" text-anchor="end" textLength="8.83" lengthAdjust="spacingAndGlyphs">0</text>
<text x="95.60" y="988.50" font-size="14.17" text-anchor="end" textLength="8.83" lengthAdjust="spacingAndGlyphs">5</text>
<text x="95.60" y="962.50" font-size="14.17" text-anchor="end" textLength="17.66" lengthAdjust="spacingAndGlyphs">10</text>
<text x="0" y="0" font-size="14.17" text-anchor="middle" transform="translate(68.6 983.6) rotate(-90)" textLength="14.51" lengthAdjust="spacingAndGlyphs">dr</text>
<path d="M162.5 1011.5v4.86M411.5 1011.5v4.86M659.5 1011.5v4.86M908.5 1011.5v4.86M1156.5 1011.5v4.86M1404.5 1011.5v4.86" stroke="#000" stroke-width="1.111" fill="none"/>
<text x="162.50" y="1031.70" font-size="14.17" text-anchor="middle" textLength="8.83" lengthAdjust="spacingAndGlyphs">0</text>
<text x="411.50" y="1031.70" font-size="14.17" text-anchor="middle" textLength="26.48" lengthAdjust="spacingAndGlyphs">500</text>
<text x="659.50" y="1031.70" font-size="14.17" text-anchor="middle" textLength="35.31" lengthAdjust="spacingAndGlyphs">1000</text>
<text x="908.50" y="1031.70" font-size="14.17" text-anchor="middle" textLength="35.31" lengthAdjust="spacingAndGlyphs">1500</text>
<text x="1156.50" y="1031.70" font-size="14.17" text-anchor="middle" textLength="35.31" lengthAdjust="spacingAndGlyphs">2000</text>
<text x="1404.50" y="1031.70" font-size="14.17" text-anchor="middle" textLength="35.31" lengthAdjust="spacingAndGlyphs">2500</text>
</svg></body></html>
